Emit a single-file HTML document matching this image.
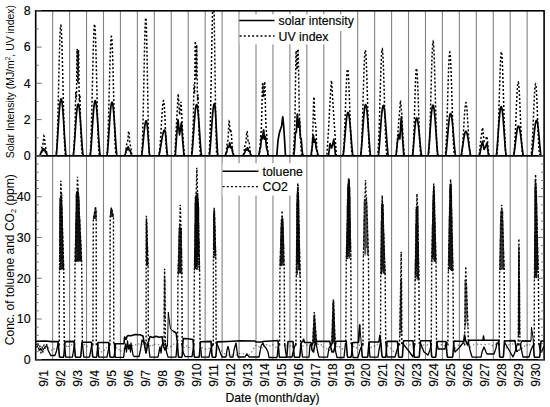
<!DOCTYPE html><html><head><meta charset="utf-8"><style>
html,body{margin:0;padding:0;background:#fff;}
svg{display:block;font-family:"Liberation Sans",sans-serif;}
text{stroke:#000;stroke-width:0.15px;}
</style></head><body>
<svg width="550" height="407" viewBox="0 0 550 407">
<rect width="550" height="407" fill="#fff"/>
<defs>
<clipPath id="ct"><rect x="35.7" y="10.8" width="508.4" height="145.1"/></clipPath>
<clipPath id="cb"><rect x="35.7" y="155.9" width="508.4" height="203.9"/></clipPath>
</defs>
<g stroke="#828282" stroke-width="1.1"><line x1="52.65" y1="10.80" x2="52.65" y2="359.80"/><line x1="69.59" y1="10.80" x2="69.59" y2="359.80"/><line x1="86.54" y1="10.80" x2="86.54" y2="359.80"/><line x1="103.49" y1="10.80" x2="103.49" y2="359.80"/><line x1="120.43" y1="10.80" x2="120.43" y2="359.80"/><line x1="137.38" y1="10.80" x2="137.38" y2="359.80"/><line x1="154.33" y1="10.80" x2="154.33" y2="359.80"/><line x1="171.27" y1="10.80" x2="171.27" y2="359.80"/><line x1="188.22" y1="10.80" x2="188.22" y2="359.80"/><line x1="205.17" y1="10.80" x2="205.17" y2="359.80"/><line x1="222.11" y1="10.80" x2="222.11" y2="359.80"/><line x1="239.06" y1="10.80" x2="239.06" y2="359.80"/><line x1="256.01" y1="10.80" x2="256.01" y2="359.80"/><line x1="272.95" y1="10.80" x2="272.95" y2="359.80"/><line x1="289.90" y1="10.80" x2="289.90" y2="359.80"/><line x1="306.85" y1="10.80" x2="306.85" y2="359.80"/><line x1="323.79" y1="10.80" x2="323.79" y2="359.80"/><line x1="340.74" y1="10.80" x2="340.74" y2="359.80"/><line x1="357.69" y1="10.80" x2="357.69" y2="359.80"/><line x1="374.63" y1="10.80" x2="374.63" y2="359.80"/><line x1="391.58" y1="10.80" x2="391.58" y2="359.80"/><line x1="408.53" y1="10.80" x2="408.53" y2="359.80"/><line x1="425.47" y1="10.80" x2="425.47" y2="359.80"/><line x1="442.42" y1="10.80" x2="442.42" y2="359.80"/><line x1="459.37" y1="10.80" x2="459.37" y2="359.80"/><line x1="476.31" y1="10.80" x2="476.31" y2="359.80"/><line x1="493.26" y1="10.80" x2="493.26" y2="359.80"/><line x1="510.21" y1="10.80" x2="510.21" y2="359.80"/><line x1="527.15" y1="10.80" x2="527.15" y2="359.80"/></g>
<g clip-path="url(#ct)" fill="none">
<path d="M35.70,155.90 L39.51,155.90 L39.72,155.90 L39.94,155.87 L40.15,155.75 L40.36,155.53 L40.57,155.18 L40.78,154.61 L41.00,153.73 L41.21,152.47 L41.42,150.86 L41.63,149.09 L41.84,147.47 L42.06,146.25 L42.27,145.56 L42.48,145.25 L42.69,144.98 L42.90,144.31 L43.11,142.98 L43.33,141.02 L43.54,138.79 L43.75,136.90 L43.96,135.95 L44.17,136.27 L44.39,137.80 L44.60,140.12 L44.81,142.59 L45.02,144.68 L45.23,146.13 L45.44,146.98 L45.66,147.56 L45.87,148.20 L46.08,149.15 L46.29,150.43 L46.50,151.86 L46.72,153.22 L46.93,154.32 L47.14,155.08 L47.35,155.53 L47.56,155.77 L47.77,155.88 L47.99,155.90 L48.20,155.90 L55.61,155.90 L55.82,155.84 L56.04,155.42 L56.25,154.39 L56.46,152.59 L56.67,149.91 L56.88,146.30 L57.10,141.71 L57.31,136.16 L57.52,129.70 L57.73,122.42 L57.94,114.42 L58.15,105.85 L58.37,96.88 L58.58,87.68 L58.79,78.45 L59.00,69.40 L59.21,60.72 L59.43,52.62 L59.64,45.29 L59.85,38.89 L60.06,33.58 L60.27,29.48 L60.48,26.70 L60.70,25.30 L60.91,25.31 L61.12,26.74 L61.33,29.55 L61.54,33.68 L61.76,39.01 L61.97,45.43 L62.18,52.79 L62.39,60.90 L62.60,69.59 L62.81,78.65 L63.03,87.88 L63.24,97.07 L63.45,106.04 L63.66,114.60 L63.87,122.58 L64.09,129.85 L64.30,136.29 L64.51,141.81 L64.72,146.38 L64.93,149.98 L65.14,152.64 L65.36,154.41 L65.57,155.43 L65.78,155.85 L65.99,155.90 L72.56,155.90 L72.77,155.88 L72.98,155.67 L73.19,155.05 L73.41,153.93 L73.62,152.22 L73.83,149.77 L74.04,146.43 L74.25,142.32 L74.47,138.05 L74.68,134.31 L74.89,130.59 L75.10,124.74 L75.31,114.79 L75.52,102.26 L75.74,92.92 L75.95,92.24 L76.16,98.11 L76.37,99.60 L76.58,89.32 L76.80,69.80 L77.01,52.52 L77.22,48.89 L77.43,60.33 L77.64,76.40 L77.85,83.23 L78.07,75.10 L78.28,59.30 L78.49,49.86 L78.70,55.84 L78.91,74.17 L79.13,92.96 L79.34,101.78 L79.55,99.62 L79.76,94.81 L79.97,97.18 L80.19,107.00 L80.40,118.74 L80.61,127.63 L80.82,132.95 L81.03,136.66 L81.24,140.45 L81.46,144.52 L81.67,148.22 L81.88,151.11 L82.09,153.18 L82.30,154.58 L82.52,155.43 L82.73,155.82 L82.94,155.90 L83.15,155.90 L89.29,155.90 L89.51,155.90 L89.72,155.71 L89.93,155.04 L90.14,153.68 L90.35,151.49 L90.56,148.38 L90.78,144.30 L90.99,139.24 L91.20,133.24 L91.41,126.34 L91.62,118.67 L91.84,110.33 L92.05,101.49 L92.26,92.32 L92.47,83.01 L92.68,73.75 L92.90,64.77 L93.11,56.25 L93.32,48.40 L93.53,41.40 L93.74,35.41 L93.95,30.58 L94.17,27.02 L94.38,24.83 L94.59,24.04 L94.80,24.69 L95.01,26.75 L95.23,30.18 L95.44,34.89 L95.65,40.77 L95.86,47.68 L96.07,55.45 L96.28,63.91 L96.50,72.86 L96.71,82.10 L96.92,91.41 L97.13,100.61 L97.34,109.49 L97.56,117.88 L97.77,125.63 L97.98,132.60 L98.19,138.70 L98.40,143.85 L98.61,148.02 L98.83,151.22 L99.04,153.50 L99.25,154.94 L99.46,155.67 L99.67,155.89 L99.89,155.90 L106.24,155.90 L106.45,155.82 L106.66,155.37 L106.88,154.34 L107.09,152.60 L107.30,150.04 L107.51,146.62 L107.72,142.30 L107.94,137.12 L108.15,131.11 L108.36,124.36 L108.57,116.97 L108.78,109.08 L108.99,100.84 L109.21,92.42 L109.42,84.00 L109.63,75.76 L109.84,67.89 L110.05,60.57 L110.27,53.97 L110.48,48.24 L110.69,43.53 L110.90,39.94 L111.11,37.57 L111.32,36.46 L111.54,36.64 L111.75,38.12 L111.96,40.85 L112.17,44.77 L112.38,49.79 L112.60,55.78 L112.81,62.60 L113.02,70.10 L113.23,78.10 L113.44,86.41 L113.65,94.85 L113.87,103.24 L114.08,111.39 L114.29,119.15 L114.50,126.37 L114.71,132.92 L114.93,138.69 L115.14,143.63 L115.35,147.69 L115.56,150.86 L115.77,153.18 L115.98,154.70 L116.20,155.55 L116.41,155.87 L116.62,155.90 L124.25,155.90 L124.46,155.90 L124.67,155.84 L124.88,155.68 L125.09,155.38 L125.31,154.91 L125.52,154.17 L125.73,153.02 L125.94,151.39 L126.15,149.33 L126.36,147.10 L126.58,145.08 L126.79,143.59 L127.00,142.77 L127.21,142.43 L127.42,142.11 L127.64,141.29 L127.85,139.62 L128.06,137.17 L128.27,134.42 L128.48,132.14 L128.69,131.05 L128.91,131.54 L129.12,133.50 L129.33,136.38 L129.54,139.43 L129.75,141.98 L129.97,143.72 L130.18,144.72 L130.39,145.38 L130.60,146.13 L130.81,147.27 L131.03,148.83 L131.24,150.62 L131.45,152.33 L131.66,153.74 L131.87,154.73 L132.08,155.34 L132.30,155.68 L132.51,155.84 L132.72,155.90 L132.93,155.90 L140.98,155.90 L141.19,155.90 L141.40,155.73 L141.62,154.94 L141.83,153.24 L142.04,150.45 L142.25,146.44 L142.46,141.16 L142.68,134.62 L142.89,126.90 L143.10,118.11 L143.31,108.45 L143.52,98.12 L143.74,87.38 L143.95,76.51 L144.16,65.80 L144.37,55.54 L144.58,46.03 L144.79,37.55 L145.01,30.33 L145.22,24.60 L145.43,20.52 L145.64,18.21 L145.85,17.77 L146.07,19.64 L146.28,23.92 L146.49,30.44 L146.70,38.95 L146.91,49.10 L147.12,60.50 L147.34,72.71 L147.55,85.28 L147.76,97.74 L147.97,109.67 L148.18,120.67 L148.40,130.42 L148.61,138.67 L148.82,145.26 L149.03,150.15 L149.24,153.40 L149.45,155.19 L149.67,155.85 L149.88,155.90 L158.14,155.90 L158.35,155.86 L158.56,155.67 L158.78,155.24 L158.99,154.53 L159.20,153.48 L159.41,152.09 L159.62,150.33 L159.83,148.20 L160.05,145.73 L160.26,142.94 L160.47,139.86 L160.68,136.54 L160.89,133.04 L161.11,129.41 L161.32,125.73 L161.53,122.07 L161.74,118.49 L161.95,115.07 L162.16,111.87 L162.38,108.97 L162.59,106.43 L162.80,104.29 L163.01,102.61 L163.22,101.42 L163.44,100.74 L163.65,100.61 L163.86,101.33 L164.07,103.01 L164.28,105.60 L164.49,108.98 L164.71,113.03 L164.92,117.58 L165.13,122.46 L165.34,127.49 L165.55,132.48 L165.77,137.27 L165.98,141.68 L166.19,145.60 L166.40,148.92 L166.61,151.57 L166.82,153.55 L167.04,154.87 L167.25,155.60 L167.46,155.88 L167.67,155.90 L174.66,155.90 L174.87,154.46 L175.09,150.36 L175.30,146.26 L175.51,142.16 L175.72,138.07 L175.93,133.97 L176.15,129.87 L176.36,125.85 L176.57,122.05 L176.78,118.25 L176.99,114.45 L177.20,110.64 L177.42,106.84 L177.63,103.04 L177.84,99.24 L178.05,95.44 L178.26,93.84 L178.48,97.35 L178.69,100.87 L178.90,104.38 L179.11,107.89 L179.32,111.40 L179.53,114.92 L179.75,114.48 L179.96,112.28 L180.17,110.09 L180.38,107.89 L180.59,105.70 L180.81,103.50 L181.02,101.83 L181.23,105.95 L181.44,110.06 L181.65,114.18 L181.87,118.30 L182.08,122.41 L182.29,126.53 L182.50,130.13 L182.71,133.17 L182.92,136.20 L183.14,139.23 L183.35,142.27 L183.56,145.30 L183.77,148.33 L183.98,151.37 L184.20,154.40 L184.41,155.90 L190.55,155.90 L190.76,155.90 L190.97,155.81 L191.19,155.40 L191.40,154.49 L191.61,153.01 L191.82,150.85 L192.03,147.86 L192.24,143.85 L192.46,139.05 L192.67,134.33 L192.88,130.46 L193.09,126.58 L193.30,119.91 L193.52,108.34 L193.73,94.21 L193.94,84.55 L194.15,85.32 L194.36,92.40 L194.58,93.81 L194.79,82.16 L195.00,61.08 L195.21,43.43 L195.42,41.09 L195.63,54.56 L195.85,71.97 L196.06,78.73 L196.27,69.73 L196.48,53.51 L196.69,44.91 L196.91,52.62 L197.12,72.52 L197.33,91.96 L197.54,100.63 L197.75,98.13 L197.96,94.32 L198.18,97.90 L198.39,108.25 L198.60,119.86 L198.81,128.48 L199.02,133.82 L199.24,137.78 L199.45,141.76 L199.66,145.79 L199.87,149.30 L200.08,151.96 L200.29,153.81 L200.51,155.01 L200.72,155.65 L200.93,155.88 L201.14,155.90 L208.56,155.90 L208.77,155.77 L208.98,155.06 L209.19,153.45 L209.40,150.71 L209.62,146.72 L209.83,141.40 L210.04,134.74 L210.25,126.78 L210.46,117.64 L210.67,107.46 L210.89,96.44 L211.10,84.82 L211.31,72.88 L211.52,60.88 L211.73,49.14 L211.95,37.95 L212.16,27.61 L212.37,18.38 L212.58,10.52 L212.79,4.23 L213.00,-0.30 L213.22,-2.97 L213.43,-3.68 L213.64,-1.66 L213.85,3.48 L214.06,11.50 L214.28,22.05 L214.49,34.66 L214.70,48.79 L214.91,63.84 L215.12,79.17 L215.33,94.19 L215.55,108.31 L215.76,121.04 L215.97,131.99 L216.18,140.88 L216.39,147.59 L216.61,152.15 L216.82,154.75 L217.03,155.78 L217.24,155.90 L224.87,155.90 L225.08,155.87 L225.29,155.75 L225.50,155.48 L225.71,155.02 L225.93,154.22 L226.14,152.98 L226.35,151.23 L226.56,149.08 L226.77,146.84 L226.99,144.84 L227.20,143.37 L227.41,142.40 L227.62,141.61 L227.83,140.44 L228.04,138.33 L228.26,135.06 L228.47,130.90 L228.68,126.60 L228.89,123.16 L229.10,121.44 L229.32,121.82 L229.53,124.00 L229.74,127.14 L229.95,130.13 L230.16,132.10 L230.37,132.71 L230.59,132.23 L230.80,131.45 L231.01,131.23 L231.22,132.23 L231.43,134.60 L231.65,137.99 L231.86,141.77 L232.07,145.27 L232.28,148.07 L232.49,150.07 L232.71,151.44 L232.92,152.45 L233.13,153.33 L233.34,154.16 L233.55,154.90 L233.76,155.45 L233.98,155.77 L234.19,155.89 L234.40,155.90 L242.45,155.90 L242.66,155.88 L242.87,155.79 L243.08,155.61 L243.30,155.32 L243.51,154.88 L243.72,154.19 L243.93,153.14 L244.14,151.70 L244.36,149.94 L244.57,148.10 L244.78,146.48 L244.99,145.32 L245.20,144.67 L245.42,144.31 L245.63,143.83 L245.84,142.76 L246.05,140.85 L246.26,138.19 L246.47,135.27 L246.69,132.79 L246.90,131.41 L247.11,131.52 L247.32,133.01 L247.53,135.37 L247.75,137.85 L247.96,139.78 L248.17,140.80 L248.38,140.99 L248.59,140.80 L248.80,140.79 L249.02,141.41 L249.23,142.84 L249.44,144.93 L249.65,147.31 L249.86,149.56 L250.08,151.40 L250.29,152.73 L250.50,153.64 L250.71,154.29 L250.92,154.80 L251.13,155.23 L251.35,155.57 L251.56,155.80 L251.77,155.89 L251.98,155.90 L258.55,155.90 L258.76,155.85 L258.97,155.62 L259.18,155.08 L259.40,154.04 L259.61,152.26 L259.82,149.61 L260.03,146.23 L260.24,142.51 L260.46,139.02 L260.67,136.17 L260.88,133.96 L261.09,131.79 L261.30,128.66 L261.51,123.59 L261.73,116.13 L261.94,106.79 L262.15,97.01 L262.36,88.79 L262.57,83.93 L262.79,83.25 L263.00,86.22 L263.21,91.05 L263.42,95.38 L263.63,97.14 L263.84,95.47 L264.06,91.00 L264.27,85.64 L264.48,81.83 L264.69,81.54 L264.90,85.57 L265.12,93.30 L265.33,103.03 L265.54,112.67 L265.75,120.58 L265.96,126.03 L266.17,129.35 L266.39,131.49 L266.60,133.58 L266.81,136.34 L267.02,139.92 L267.23,143.93 L267.45,147.77 L267.66,150.92 L267.87,153.15 L268.08,154.55 L268.29,155.33 L268.50,155.73 L268.72,155.89 L268.93,155.90 L292.65,155.90 L292.87,155.89 L293.08,155.60 L293.29,154.48 L293.50,152.19 L293.71,148.73 L293.92,144.52 L294.14,140.12 L294.35,135.81 L294.56,131.17 L294.77,125.07 L294.98,116.22 L295.20,103.93 L295.41,88.87 L295.62,73.19 L295.83,59.99 L296.04,52.04 L296.26,50.60 L296.47,54.73 L296.68,61.55 L296.89,67.44 L297.10,69.50 L297.31,66.57 L297.53,60.03 L297.74,52.98 L297.95,48.89 L298.16,50.25 L298.37,57.72 L298.59,69.94 L298.80,84.24 L299.01,97.73 L299.22,108.34 L299.43,115.43 L299.64,119.71 L299.86,122.69 L300.07,125.84 L300.28,130.01 L300.49,135.21 L300.70,140.79 L300.92,145.92 L301.13,149.97 L301.34,152.74 L301.55,154.41 L301.76,155.33 L301.97,155.76 L302.19,155.90 L302.40,155.90 L310.87,155.90 L311.08,155.90 L311.30,155.63 L311.51,154.49 L311.72,152.28 L311.93,149.27 L312.14,145.88 L312.35,142.30 L312.57,138.13 L312.78,132.61 L312.99,125.20 L313.20,116.20 L313.41,107.06 L313.63,99.93 L313.84,96.77 L314.05,98.36 L314.26,103.32 L314.47,109.74 L314.68,115.75 L314.90,120.01 L315.11,122.21 L315.32,122.99 L315.53,123.62 L315.74,125.26 L315.96,128.52 L316.17,133.23 L316.38,138.63 L316.59,143.79 L316.80,148.02 L317.01,151.06 L317.23,153.06 L317.44,154.34 L317.65,155.16 L317.86,155.67 L318.07,155.88 L318.29,155.90 L326.76,155.90 L326.97,153.32 L327.18,150.12 L327.39,146.91 L327.61,143.71 L327.82,140.51 L328.03,137.31 L328.24,134.11 L328.45,130.91 L328.67,127.43 L328.88,123.35 L329.09,119.27 L329.30,115.18 L329.51,111.10 L329.72,107.02 L329.94,102.94 L330.15,98.86 L330.36,95.58 L330.57,92.57 L330.78,89.55 L331.00,86.54 L331.21,83.52 L331.42,80.51 L331.63,81.59 L331.84,85.20 L332.05,88.80 L332.27,92.41 L332.48,96.02 L332.69,99.62 L332.90,103.01 L333.11,106.18 L333.33,109.34 L333.54,112.51 L333.75,115.67 L333.96,118.83 L334.17,122.00 L334.38,125.16 L334.60,128.36 L334.81,131.59 L335.02,134.83 L335.23,138.07 L335.44,141.30 L335.66,144.54 L335.87,147.77 L336.08,151.01 L336.29,154.24 L336.50,155.90 L342.43,155.90 L342.65,155.85 L342.86,155.53 L343.07,154.80 L343.28,153.55 L343.49,151.71 L343.71,149.24 L343.92,146.13 L344.13,142.39 L344.34,138.05 L344.55,133.16 L344.76,127.82 L344.98,122.10 L345.19,116.13 L345.40,110.03 L345.61,103.92 L345.82,97.93 L346.04,92.22 L346.25,86.89 L346.46,82.09 L346.67,77.92 L346.88,74.48 L347.10,71.85 L347.31,70.10 L347.52,69.27 L347.73,69.38 L347.94,70.43 L348.15,72.38 L348.37,75.21 L348.58,78.82 L348.79,83.15 L349.00,88.09 L349.21,93.51 L349.43,99.30 L349.64,105.33 L349.85,111.45 L350.06,117.54 L350.27,123.46 L350.48,129.10 L350.70,134.34 L350.91,139.11 L351.12,143.31 L351.33,146.91 L351.54,149.87 L351.76,152.19 L351.97,153.89 L352.18,155.01 L352.39,155.63 L352.60,155.88 L352.81,155.90 L360.02,155.90 L360.23,155.89 L360.44,155.71 L360.65,155.12 L360.86,153.96 L361.08,152.12 L361.29,149.54 L361.50,146.18 L361.71,142.03 L361.92,137.13 L362.14,131.52 L362.35,125.29 L362.56,118.54 L362.77,111.40 L362.98,104.01 L363.19,96.53 L363.41,89.11 L363.62,81.93 L363.83,75.14 L364.04,68.90 L364.25,63.36 L364.47,58.64 L364.68,54.87 L364.89,52.13 L365.10,50.49 L365.31,49.98 L365.52,50.62 L365.74,52.40 L365.95,55.27 L366.16,59.16 L366.37,63.98 L366.58,69.61 L366.80,75.92 L367.01,82.77 L367.22,89.99 L367.43,97.43 L367.64,104.91 L367.85,112.27 L368.07,119.37 L368.28,126.06 L368.49,132.22 L368.70,137.75 L368.91,142.57 L369.13,146.62 L369.34,149.89 L369.55,152.38 L369.76,154.13 L369.97,155.22 L370.18,155.75 L370.40,155.90 L370.61,155.90 L376.96,155.90 L377.18,155.88 L377.39,155.62 L377.60,154.91 L377.81,153.59 L378.02,151.57 L378.23,148.79 L378.45,145.22 L378.66,140.86 L378.87,135.74 L379.08,129.93 L379.29,123.51 L379.51,116.60 L379.72,109.32 L379.93,101.82 L380.14,94.26 L380.35,86.80 L380.56,79.62 L380.78,72.87 L380.99,66.71 L381.20,61.28 L381.41,56.72 L381.62,53.13 L381.84,50.60 L382.05,49.19 L382.26,48.93 L382.47,49.84 L382.68,51.88 L382.89,55.01 L383.11,59.16 L383.32,64.22 L383.53,70.07 L383.74,76.59 L383.95,83.60 L384.17,90.96 L384.38,98.49 L384.59,106.04 L384.80,113.43 L385.01,120.52 L385.23,127.18 L385.44,133.27 L385.65,138.70 L385.86,143.40 L386.07,147.32 L386.28,150.45 L386.50,152.79 L386.71,154.41 L386.92,155.37 L387.13,155.81 L387.34,155.90 L387.56,155.90 L396.24,155.90 L396.45,153.69 L396.66,150.62 L396.88,147.54 L397.09,144.47 L397.30,141.40 L397.51,138.32 L397.72,135.25 L397.94,132.39 L398.15,129.64 L398.36,126.90 L398.57,124.15 L398.78,121.41 L398.99,118.66 L399.21,115.92 L399.42,113.35 L399.63,110.78 L399.84,108.21 L400.05,105.64 L400.27,103.07 L400.48,100.50 L400.69,102.25 L400.90,104.52 L401.11,106.80 L401.32,109.07 L401.54,111.35 L401.75,113.63 L401.96,117.32 L402.17,121.49 L402.38,125.65 L402.60,129.81 L402.81,133.97 L403.02,138.01 L403.23,140.75 L403.44,143.50 L403.65,146.24 L403.87,148.99 L404.08,151.73 L404.29,154.47 L404.50,155.90 L411.92,155.90 L412.13,155.90 L412.34,155.74 L412.55,155.11 L412.76,153.81 L412.98,151.73 L413.19,148.78 L413.40,144.95 L413.61,140.25 L413.82,134.77 L414.03,128.61 L414.25,121.92 L414.46,114.87 L414.67,107.66 L414.88,100.50 L415.09,93.60 L415.31,87.19 L415.52,81.45 L415.73,76.58 L415.94,72.73 L416.15,70.03 L416.36,68.56 L416.58,68.37 L416.79,69.29 L417.00,71.27 L417.21,74.24 L417.42,78.13 L417.64,82.83 L417.85,88.22 L418.06,94.14 L418.27,100.46 L418.48,106.99 L418.69,113.58 L418.91,120.07 L419.12,126.30 L419.33,132.13 L419.54,137.45 L419.75,142.16 L419.97,146.18 L420.18,149.47 L420.39,152.03 L420.60,153.88 L420.81,155.06 L421.02,155.69 L421.24,155.89 L421.45,155.90 L427.80,155.90 L428.02,155.90 L428.23,155.72 L428.44,155.12 L428.65,153.90 L428.86,151.97 L429.07,149.24 L429.29,145.66 L429.50,141.24 L429.71,136.00 L429.92,130.00 L430.13,123.32 L430.35,116.07 L430.56,108.39 L430.77,100.43 L430.98,92.36 L431.19,84.35 L431.40,76.58 L431.62,69.22 L431.83,62.45 L432.04,56.42 L432.25,51.27 L432.46,47.14 L432.68,44.11 L432.89,42.26 L433.10,41.63 L433.31,42.25 L433.52,44.09 L433.73,47.11 L433.95,51.24 L434.16,56.38 L434.37,62.41 L434.58,69.18 L434.79,76.53 L435.01,84.30 L435.22,92.31 L435.43,100.38 L435.64,108.34 L435.85,116.02 L436.06,123.27 L436.28,129.96 L436.49,135.97 L436.70,141.21 L436.91,145.64 L437.12,149.22 L437.34,151.96 L437.55,153.89 L437.76,155.11 L437.97,155.72 L438.18,155.90 L438.40,155.90 L444.54,155.90 L444.75,155.89 L444.96,155.68 L445.17,155.05 L445.39,153.85 L445.60,151.98 L445.81,149.37 L446.02,146.00 L446.23,141.86 L446.44,136.98 L446.66,131.43 L446.87,125.27 L447.08,118.61 L447.29,111.59 L447.50,104.34 L447.72,97.01 L447.93,89.76 L448.14,82.75 L448.35,76.15 L448.56,70.10 L448.78,64.75 L448.99,60.22 L449.20,56.63 L449.41,54.05 L449.62,52.55 L449.83,52.17 L450.05,52.91 L450.26,54.76 L450.47,57.68 L450.68,61.59 L450.89,66.39 L451.11,71.98 L451.32,78.23 L451.53,84.98 L451.74,92.08 L451.95,99.37 L452.16,106.69 L452.38,113.89 L452.59,120.81 L452.80,127.31 L453.01,133.29 L453.22,138.63 L453.44,143.28 L453.65,147.17 L453.86,150.29 L454.07,152.66 L454.28,154.30 L454.49,155.31 L454.71,155.79 L454.92,155.90 L455.13,155.90 L460.64,155.90 L460.85,155.89 L461.06,155.79 L461.27,155.46 L461.49,154.85 L461.70,153.89 L461.91,152.55 L462.12,150.82 L462.33,148.69 L462.54,146.19 L462.76,143.33 L462.97,140.17 L463.18,136.75 L463.39,133.14 L463.60,129.41 L463.82,125.64 L464.03,121.92 L464.24,118.31 L464.45,114.92 L464.66,111.81 L464.87,109.06 L465.09,106.73 L465.30,104.88 L465.51,103.55 L465.72,102.78 L465.93,102.58 L466.15,102.96 L466.36,103.91 L466.57,105.41 L466.78,107.42 L466.99,109.89 L467.20,112.76 L467.42,115.97 L467.63,119.44 L467.84,123.09 L468.05,126.83 L468.26,130.60 L468.48,134.30 L468.69,137.85 L468.90,141.20 L469.11,144.27 L469.32,147.02 L469.53,149.41 L469.75,151.41 L469.96,153.01 L470.17,154.23 L470.38,155.08 L470.59,155.59 L470.81,155.84 L471.02,155.90 L471.23,155.90 L478.86,155.90 L479.07,155.29 L479.28,153.37 L479.49,151.45 L479.70,149.53 L479.91,147.61 L480.13,145.69 L480.34,143.76 L480.55,141.84 L480.76,139.92 L480.97,138.35 L481.19,136.86 L481.40,135.36 L481.61,133.87 L481.82,132.37 L482.03,130.88 L482.24,129.39 L482.46,127.89 L482.67,127.59 L482.88,129.78 L483.09,131.98 L483.30,134.17 L483.52,136.37 L483.73,138.57 L483.94,140.76 L484.15,141.22 L484.36,140.98 L484.57,140.74 L484.79,140.50 L485.00,140.26 L485.21,140.02 L485.42,139.78 L485.63,139.49 L485.85,138.94 L486.06,138.39 L486.27,137.84 L486.48,137.29 L486.69,136.74 L486.91,136.19 L487.12,137.11 L487.33,139.23 L487.54,141.34 L487.75,143.45 L487.96,145.57 L488.18,147.68 L488.39,149.79 L488.60,151.91 L488.81,154.02 L489.02,155.90 L496.23,155.90 L496.44,155.84 L496.65,155.48 L496.86,154.62 L497.07,153.15 L497.28,150.97 L497.50,148.03 L497.71,144.32 L497.92,139.85 L498.13,134.66 L498.34,128.81 L498.56,122.40 L498.77,115.54 L498.98,108.37 L499.19,101.03 L499.40,93.68 L499.62,86.47 L499.83,79.58 L500.04,73.15 L500.25,67.34 L500.46,62.29 L500.67,58.11 L500.89,54.91 L501.10,52.76 L501.31,51.71 L501.52,51.80 L501.73,53.01 L501.95,55.32 L502.16,58.67 L502.37,62.98 L502.58,68.15 L502.79,74.06 L503.00,80.56 L503.22,87.51 L503.43,94.75 L503.64,102.12 L503.85,109.44 L504.06,116.58 L504.28,123.38 L504.49,129.71 L504.70,135.47 L504.91,140.56 L505.12,144.92 L505.33,148.51 L505.55,151.33 L505.76,153.41 L505.97,154.78 L506.18,155.56 L506.39,155.86 L506.61,155.90 L512.96,155.90 L513.17,155.89 L513.38,155.71 L513.60,155.22 L513.81,154.32 L514.02,152.94 L514.23,151.03 L514.44,148.57 L514.66,145.57 L514.87,142.05 L515.08,138.05 L515.29,133.62 L515.50,128.86 L515.71,123.84 L515.93,118.67 L516.14,113.45 L516.35,108.31 L516.56,103.35 L516.77,98.68 L516.99,94.43 L517.20,90.68 L517.41,87.52 L517.62,85.04 L517.83,83.28 L518.04,82.30 L518.26,82.11 L518.47,82.72 L518.68,84.12 L518.89,86.27 L519.10,89.12 L519.32,92.60 L519.53,96.63 L519.74,101.12 L519.95,105.95 L520.16,111.03 L520.37,116.22 L520.59,121.43 L520.80,126.53 L521.01,131.43 L521.22,136.02 L521.43,140.23 L521.65,143.99 L521.86,147.23 L522.07,149.95 L522.28,152.11 L522.49,153.74 L522.70,154.86 L522.92,155.53 L523.13,155.84 L523.34,155.90 L523.55,155.90 L530.33,155.90 L530.54,155.89 L530.75,155.76 L530.97,155.33 L531.18,154.51 L531.39,153.23 L531.60,151.44 L531.81,149.12 L532.03,146.27 L532.24,142.90 L532.45,139.06 L532.66,134.80 L532.87,130.19 L533.08,125.32 L533.30,120.29 L533.51,115.21 L533.72,110.17 L533.93,105.30 L534.14,100.71 L534.36,96.49 L534.57,92.76 L534.78,89.59 L534.99,87.07 L535.20,85.26 L535.41,84.19 L535.63,83.90 L535.84,84.51 L536.05,86.06 L536.26,88.52 L536.47,91.81 L536.69,95.84 L536.90,100.48 L537.11,105.59 L537.32,111.04 L537.53,116.67 L537.75,122.33 L537.96,127.86 L538.17,133.13 L538.38,138.00 L538.59,142.38 L538.80,146.17 L539.02,149.34 L539.23,151.84 L539.44,153.68 L539.65,154.91 L539.86,155.60 L540.08,155.87 L540.29,155.90 L544.10,155.90" stroke="#000" stroke-width="1.5" stroke-dasharray="2 2"/>
<path d="M35.70,155.90 L39.30,155.90 L39.51,155.84 L39.72,155.65 L39.94,155.36 L40.15,154.93 L40.36,154.35 L40.57,153.70 L40.78,153.11 L41.00,152.70 L41.21,152.52 L41.42,152.46 L41.63,152.35 L41.84,151.98 L42.06,151.28 L42.27,150.34 L42.48,149.41 L42.69,148.78 L42.90,148.65 L43.11,149.01 L43.33,149.67 L43.54,150.30 L43.75,150.59 L43.96,150.45 L44.17,149.97 L44.39,149.44 L44.60,149.15 L44.81,149.31 L45.02,149.93 L45.23,150.82 L45.44,151.72 L45.66,152.41 L45.87,152.79 L46.08,152.93 L46.29,152.99 L46.50,153.15 L46.72,153.50 L46.93,153.99 L47.14,154.55 L47.35,155.05 L47.56,155.42 L47.77,155.67 L47.99,155.84 L48.20,155.90 L56.04,155.90 L56.25,155.05 L56.46,153.34 L56.67,151.12 L56.88,148.52 L57.10,145.62 L57.31,142.49 L57.52,139.19 L57.73,135.78 L57.94,132.29 L58.15,128.79 L58.37,125.31 L58.58,121.90 L58.79,118.61 L59.00,115.46 L59.21,112.50 L59.43,109.76 L59.64,107.27 L59.85,105.06 L60.06,103.15 L60.27,101.57 L60.48,100.33 L60.70,99.44 L60.91,98.92 L61.12,98.77 L61.33,98.99 L61.54,99.58 L61.76,100.53 L61.97,101.84 L62.18,103.49 L62.39,105.45 L62.60,107.72 L62.81,110.26 L63.03,113.04 L63.24,116.04 L63.45,119.22 L63.66,122.54 L63.87,125.96 L64.09,129.45 L64.30,132.95 L64.51,136.43 L64.72,139.83 L64.93,143.10 L65.14,146.19 L65.36,149.03 L65.57,151.57 L65.78,153.70 L65.99,155.30 L66.20,155.90 L72.98,155.90 L73.19,155.82 L73.41,154.75 L73.62,153.06 L73.83,150.94 L74.04,148.49 L74.25,145.80 L74.47,142.91 L74.68,139.88 L74.89,136.75 L75.10,133.58 L75.31,130.40 L75.52,127.25 L75.74,124.18 L75.95,121.22 L76.16,118.41 L76.37,115.77 L76.58,113.34 L76.80,111.15 L77.01,109.21 L77.22,107.56 L77.43,106.21 L77.64,105.17 L77.85,104.45 L78.07,104.07 L78.28,104.03 L78.49,104.32 L78.70,104.95 L78.91,105.91 L79.13,107.18 L79.34,108.76 L79.55,110.62 L79.76,112.75 L79.97,115.12 L80.19,117.71 L80.40,120.48 L80.61,123.40 L80.82,126.45 L81.03,129.58 L81.24,132.75 L81.46,135.93 L81.67,139.07 L81.88,142.13 L82.09,145.07 L82.30,147.82 L82.52,150.33 L82.73,152.54 L82.94,154.36 L83.15,155.63 L83.36,155.90 L90.14,155.90 L90.35,155.04 L90.56,153.37 L90.78,151.21 L90.99,148.69 L91.20,145.88 L91.41,142.84 L91.62,139.64 L91.84,136.33 L92.05,132.96 L92.26,129.57 L92.47,126.20 L92.68,122.90 L92.90,119.72 L93.11,116.67 L93.32,113.81 L93.53,111.16 L93.74,108.76 L93.95,106.62 L94.17,104.79 L94.38,103.26 L94.59,102.07 L94.80,101.22 L95.01,100.72 L95.23,100.58 L95.44,100.81 L95.65,101.39 L95.86,102.32 L96.07,103.59 L96.28,105.19 L96.50,107.11 L96.71,109.31 L96.92,111.77 L97.13,114.47 L97.34,117.38 L97.56,120.46 L97.77,123.68 L97.98,127.00 L98.19,130.37 L98.40,133.76 L98.61,137.13 L98.83,140.42 L99.04,143.58 L99.25,146.57 L99.46,149.32 L99.67,151.76 L99.89,153.82 L100.10,155.34 L100.31,155.90 L106.88,155.90 L107.09,155.44 L107.30,154.00 L107.51,152.04 L107.72,149.69 L107.94,147.04 L108.15,144.15 L108.36,141.09 L108.57,137.91 L108.78,134.65 L108.99,131.36 L109.21,128.08 L109.42,124.85 L109.63,121.72 L109.84,118.72 L110.05,115.89 L110.27,113.25 L110.48,110.84 L110.69,108.69 L110.90,106.81 L111.11,105.24 L111.32,103.98 L111.54,103.05 L111.75,102.46 L111.96,102.22 L112.17,102.33 L112.38,102.79 L112.60,103.59 L112.81,104.72 L113.02,106.18 L113.23,107.94 L113.44,110.00 L113.65,112.31 L113.87,114.87 L114.08,117.63 L114.29,120.57 L114.50,123.66 L114.71,126.85 L114.93,130.11 L115.14,133.41 L115.35,136.68 L115.56,139.90 L115.77,143.01 L115.98,145.97 L116.20,148.72 L116.41,151.19 L116.62,153.31 L116.83,154.97 L117.04,155.90 L117.26,155.90 L124.03,155.90 L124.25,155.87 L124.46,155.55 L124.67,155.14 L124.88,154.74 L125.09,154.35 L125.31,153.85 L125.52,153.13 L125.73,152.13 L125.94,150.97 L126.15,149.91 L126.36,149.20 L126.58,149.01 L126.79,149.23 L127.00,149.61 L127.21,149.76 L127.42,149.46 L127.64,148.71 L127.85,147.78 L128.06,147.05 L128.27,146.83 L128.48,147.26 L128.69,148.19 L128.91,149.29 L129.12,150.21 L129.33,150.69 L129.54,150.75 L129.75,150.58 L129.97,150.46 L130.18,150.64 L130.39,151.20 L130.60,152.02 L130.81,152.93 L131.03,153.72 L131.24,154.29 L131.45,154.67 L131.66,154.96 L131.87,155.24 L132.08,155.54 L132.30,155.81 L132.51,155.90 L141.40,155.90 L141.62,155.49 L141.83,154.42 L142.04,152.97 L142.25,151.26 L142.46,149.35 L142.68,147.28 L142.89,145.09 L143.10,142.83 L143.31,140.54 L143.52,138.25 L143.74,135.98 L143.95,133.79 L144.16,131.68 L144.37,129.69 L144.58,127.86 L144.79,126.19 L145.01,124.71 L145.22,123.45 L145.43,122.41 L145.64,121.61 L145.85,121.06 L146.07,120.77 L146.28,120.74 L146.49,121.13 L146.70,121.96 L146.91,123.21 L147.12,124.85 L147.34,126.86 L147.55,129.18 L147.76,131.76 L147.97,134.56 L148.18,137.49 L148.40,140.50 L148.61,143.51 L148.82,146.44 L149.03,149.20 L149.24,151.70 L149.45,153.81 L149.67,155.38 L149.88,155.90 L158.56,155.90 L158.78,155.70 L158.99,155.15 L159.20,154.42 L159.41,153.54 L159.62,152.55 L159.83,151.47 L160.05,150.31 L160.26,149.09 L160.47,147.82 L160.68,146.53 L160.89,145.21 L161.11,143.89 L161.32,142.58 L161.53,141.28 L161.74,140.01 L161.95,138.77 L162.16,137.59 L162.38,136.47 L162.59,135.41 L162.80,134.42 L163.01,133.52 L163.22,132.71 L163.44,132.00 L163.65,131.38 L163.86,130.87 L164.07,130.47 L164.28,130.19 L164.49,130.02 L164.71,129.96 L164.92,130.24 L165.13,131.02 L165.34,132.28 L165.55,133.98 L165.77,136.07 L165.98,138.46 L166.19,141.08 L166.40,143.83 L166.61,146.60 L166.82,149.29 L167.04,151.77 L167.25,153.89 L167.46,155.45 L167.67,155.90 L175.30,155.90 L175.51,152.73 L175.72,149.52 L175.93,146.32 L176.15,143.12 L176.36,139.92 L176.57,136.91 L176.78,134.30 L176.99,131.68 L177.20,129.07 L177.42,126.46 L177.63,123.85 L177.84,121.23 L178.05,119.81 L178.26,122.04 L178.48,124.27 L178.69,126.49 L178.90,128.72 L179.11,130.95 L179.32,133.18 L179.53,134.81 L179.75,133.37 L179.96,131.93 L180.17,130.50 L180.38,129.06 L180.59,127.63 L180.81,126.19 L181.02,124.76 L181.23,123.32 L181.44,122.76 L181.65,125.84 L181.87,128.91 L182.08,131.99 L182.29,135.06 L182.50,138.13 L182.71,140.89 L182.92,143.36 L183.14,145.83 L183.35,148.30 L183.56,150.77 L183.77,153.24 L183.98,155.71 L184.20,155.90 L191.40,155.90 L191.61,155.78 L191.82,154.66 L192.03,152.95 L192.24,150.83 L192.46,148.39 L192.67,145.71 L192.88,142.84 L193.09,139.83 L193.30,136.73 L193.52,133.59 L193.73,130.44 L193.94,127.33 L194.15,124.30 L194.36,121.38 L194.58,118.60 L194.79,116.01 L195.00,113.62 L195.21,111.47 L195.42,109.57 L195.63,107.95 L195.85,106.64 L196.06,105.63 L196.27,104.94 L196.48,104.59 L196.69,104.57 L196.91,104.89 L197.12,105.53 L197.33,106.50 L197.54,107.78 L197.75,109.36 L197.96,111.23 L198.18,113.35 L198.39,115.71 L198.60,118.29 L198.81,121.04 L199.02,123.95 L199.24,126.97 L199.45,130.07 L199.66,133.21 L199.87,136.36 L200.08,139.46 L200.29,142.48 L200.51,145.37 L200.72,148.08 L200.93,150.55 L201.14,152.72 L201.35,154.49 L201.57,155.69 L201.78,155.90 L209.19,155.90 L209.40,155.37 L209.62,153.96 L209.83,152.07 L210.04,149.82 L210.25,147.30 L210.46,144.55 L210.67,141.64 L210.89,138.61 L211.10,135.50 L211.31,132.36 L211.52,129.23 L211.73,126.15 L211.95,123.15 L212.16,120.26 L212.37,117.52 L212.58,114.97 L212.79,112.62 L213.00,110.50 L213.22,108.63 L213.43,107.04 L213.64,105.75 L213.85,104.75 L214.06,104.08 L214.28,103.72 L214.49,103.72 L214.70,104.37 L214.91,105.70 L215.12,107.69 L215.33,110.30 L215.55,113.46 L215.76,117.11 L215.97,121.15 L216.18,125.49 L216.39,130.02 L216.61,134.64 L216.82,139.20 L217.03,143.59 L217.24,147.65 L217.45,151.23 L217.66,154.09 L217.88,155.84 L218.09,155.90 L224.87,155.90 L225.08,155.82 L225.29,155.47 L225.50,154.91 L225.71,154.25 L225.93,153.64 L226.14,153.17 L226.35,152.84 L226.56,152.49 L226.77,151.90 L226.99,150.91 L227.20,149.56 L227.41,148.09 L227.62,146.86 L227.83,146.21 L228.04,146.24 L228.26,146.75 L228.47,147.31 L228.68,147.45 L228.89,146.89 L229.10,145.71 L229.32,144.28 L229.53,143.17 L229.74,142.84 L229.95,143.43 L230.16,144.72 L230.37,146.21 L230.59,147.36 L230.80,147.86 L231.01,147.72 L231.22,147.27 L231.43,146.95 L231.65,147.14 L231.86,147.95 L232.07,149.23 L232.28,150.63 L232.49,151.85 L232.71,152.72 L232.92,153.25 L233.13,153.63 L233.34,154.02 L233.55,154.51 L233.76,155.07 L233.98,155.57 L234.19,155.88 L234.40,155.90 L242.45,155.90 L242.66,155.87 L242.87,155.69 L243.08,155.38 L243.30,154.95 L243.51,154.44 L243.72,153.97 L243.93,153.61 L244.14,153.41 L244.36,153.26 L244.57,153.02 L244.78,152.54 L244.99,151.76 L245.20,150.80 L245.42,149.87 L245.63,149.26 L245.84,149.11 L246.05,149.39 L246.26,149.88 L246.47,150.25 L246.69,150.24 L246.90,149.75 L247.11,148.96 L247.32,148.17 L247.53,147.74 L247.75,147.87 L247.96,148.53 L248.17,149.49 L248.38,150.42 L248.59,151.03 L248.80,151.22 L249.02,151.11 L249.23,150.94 L249.44,150.95 L249.65,151.30 L249.86,151.96 L250.08,152.78 L250.29,153.56 L250.50,154.17 L250.71,154.59 L250.92,154.87 L251.13,155.12 L251.35,155.39 L251.56,155.66 L251.77,155.87 L251.98,155.90 L258.34,155.90 L258.55,155.81 L258.76,155.32 L258.97,154.47 L259.18,153.26 L259.40,151.85 L259.61,150.51 L259.82,149.50 L260.03,148.90 L260.24,148.47 L260.46,147.78 L260.67,146.39 L260.88,144.15 L261.09,141.32 L261.30,138.57 L261.51,136.65 L261.73,136.05 L261.94,136.71 L262.15,138.00 L262.36,138.96 L262.57,138.78 L262.79,137.15 L263.00,134.48 L263.21,131.73 L263.42,129.99 L263.63,129.96 L263.84,131.67 L264.06,134.43 L264.27,137.16 L264.48,138.89 L264.69,139.18 L264.90,138.31 L265.12,137.08 L265.33,136.43 L265.54,137.00 L265.75,138.87 L265.96,141.58 L266.17,144.39 L266.39,146.64 L266.60,148.07 L266.81,148.81 L267.02,149.27 L267.23,149.89 L267.45,150.88 L267.66,152.18 L267.87,153.53 L268.08,154.67 L268.29,155.46 L268.50,155.87 L268.72,155.90 L276.77,155.90 L276.98,153.61 L277.19,150.89 L277.40,148.17 L277.61,145.45 L277.83,142.72 L278.04,140.28 L278.25,139.13 L278.46,137.97 L278.67,136.82 L278.88,135.67 L279.10,134.52 L279.31,133.36 L279.52,132.26 L279.73,131.64 L279.94,131.02 L280.16,130.40 L280.37,129.78 L280.58,129.16 L280.79,128.54 L281.00,127.87 L281.21,127.20 L281.43,126.52 L281.64,125.65 L281.85,123.89 L282.06,122.13 L282.27,120.37 L282.49,118.61 L282.70,116.85 L282.91,117.32 L283.12,119.88 L283.33,122.44 L283.55,125.01 L283.76,127.57 L283.97,130.13 L284.18,133.56 L284.39,137.15 L284.60,140.74 L284.82,144.32 L285.03,147.91 L285.24,151.49 L285.45,155.08 L285.66,155.90 L293.29,155.90 L293.50,155.87 L293.71,154.92 L293.92,153.64 L294.14,152.27 L294.35,150.59 L294.56,148.19 L294.77,144.81 L294.98,140.69 L295.20,136.57 L295.41,133.41 L295.62,131.86 L295.83,131.82 L296.04,132.42 L296.26,132.31 L296.47,130.40 L296.68,126.47 L296.89,121.37 L297.10,116.72 L297.31,114.18 L297.53,114.64 L297.74,117.76 L297.95,122.06 L298.16,125.67 L298.37,127.22 L298.59,126.32 L298.80,123.74 L299.01,121.02 L299.22,119.74 L299.43,120.84 L299.64,124.23 L299.86,128.90 L300.07,133.44 L300.28,136.70 L300.49,138.25 L300.70,138.48 L300.92,138.32 L301.13,138.71 L301.34,140.19 L301.55,142.70 L301.76,145.71 L301.97,148.58 L302.19,150.83 L302.40,152.40 L302.61,153.50 L302.82,154.41 L303.03,155.27 L303.25,155.89 L303.46,155.90 L310.87,155.90 L311.08,155.27 L311.30,153.60 L311.51,151.69 L311.72,150.03 L311.93,148.73 L312.14,147.44 L312.35,145.64 L312.57,143.03 L312.78,139.88 L312.99,137.02 L313.20,135.40 L313.41,135.61 L313.63,137.25 L313.84,139.45 L314.05,141.34 L314.26,142.24 L314.47,141.98 L314.68,140.96 L314.90,139.91 L315.11,139.57 L315.32,140.33 L315.53,142.11 L315.74,144.41 L315.96,146.61 L316.17,148.22 L316.38,149.12 L316.59,149.52 L316.80,149.80 L317.01,150.33 L317.23,151.23 L317.44,152.39 L317.65,153.59 L317.86,154.59 L318.07,155.30 L318.29,155.74 L318.50,155.90 L328.45,155.90 L328.67,154.50 L328.88,152.71 L329.09,150.91 L329.30,149.12 L329.51,147.33 L329.72,145.53 L329.94,143.74 L330.15,143.71 L330.36,144.42 L330.57,145.14 L330.78,145.86 L331.00,146.57 L331.21,147.29 L331.42,148.01 L331.63,147.85 L331.84,147.16 L332.05,146.47 L332.27,145.78 L332.48,145.09 L332.69,144.17 L332.90,143.22 L333.11,142.28 L333.33,141.33 L333.54,140.38 L333.75,139.44 L333.96,140.75 L334.17,142.77 L334.38,144.78 L334.60,146.80 L334.81,148.72 L335.02,150.64 L335.23,152.57 L335.44,154.49 L335.66,155.90 L342.86,155.90 L343.07,155.60 L343.28,154.48 L343.49,152.92 L343.71,151.03 L343.92,148.90 L344.13,146.58 L344.34,144.11 L344.55,141.53 L344.76,138.89 L344.98,136.22 L345.19,133.56 L345.40,130.94 L345.61,128.40 L345.82,125.95 L346.04,123.64 L346.25,121.49 L346.46,119.52 L346.67,117.76 L346.88,116.22 L347.10,114.92 L347.31,113.87 L347.52,113.10 L347.73,112.60 L347.94,112.38 L348.15,112.45 L348.37,112.79 L348.58,113.42 L348.79,114.32 L349.00,115.48 L349.21,116.89 L349.43,118.53 L349.64,120.39 L349.85,122.45 L350.06,124.68 L350.27,127.05 L350.48,129.55 L350.70,132.13 L350.91,134.77 L351.12,137.44 L351.33,140.10 L351.54,142.71 L351.76,145.25 L351.97,147.66 L352.18,149.90 L352.39,151.92 L352.60,153.67 L352.81,155.05 L353.03,155.88 L353.24,155.90 L360.44,155.90 L360.65,155.62 L360.86,154.36 L361.08,152.55 L361.29,150.36 L361.50,147.87 L361.71,145.14 L361.92,142.24 L362.14,139.21 L362.35,136.11 L362.56,132.96 L362.77,129.82 L362.98,126.73 L363.19,123.72 L363.41,120.82 L363.62,118.09 L363.83,115.53 L364.04,113.19 L364.25,111.09 L364.47,109.25 L364.68,107.69 L364.89,106.44 L365.10,105.50 L365.31,104.88 L365.52,104.59 L365.74,104.64 L365.95,105.02 L366.16,105.73 L366.37,106.77 L366.58,108.11 L366.80,109.75 L367.01,111.66 L367.22,113.84 L367.43,116.24 L367.64,118.85 L367.85,121.64 L368.07,124.57 L368.28,127.61 L368.49,130.72 L368.70,133.87 L368.91,137.00 L369.13,140.09 L369.34,143.09 L369.55,145.95 L369.76,148.61 L369.97,151.02 L370.18,153.11 L370.40,154.79 L370.61,155.83 L370.82,155.90 L378.23,155.90 L378.45,155.16 L378.66,153.65 L378.87,151.70 L379.08,149.40 L379.29,146.85 L379.51,144.09 L379.72,141.18 L379.93,138.16 L380.14,135.09 L380.35,132.00 L380.56,128.93 L380.78,125.92 L380.99,123.01 L381.20,120.23 L381.41,117.62 L381.62,115.20 L381.84,113.00 L382.05,111.04 L382.26,109.36 L382.47,107.96 L382.68,106.86 L382.89,106.08 L383.11,105.61 L383.32,105.48 L383.53,105.67 L383.74,106.19 L383.95,107.03 L384.17,108.18 L384.38,109.63 L384.59,111.37 L384.80,113.36 L385.01,115.60 L385.23,118.06 L385.44,120.70 L385.65,123.51 L385.86,126.44 L386.07,129.46 L386.28,132.54 L386.50,135.63 L386.71,138.69 L386.92,141.69 L387.13,144.58 L387.34,147.31 L387.56,149.82 L387.77,152.06 L387.98,153.95 L388.19,155.36 L388.40,155.90 L395.82,155.90 L396.03,155.62 L396.24,153.58 L396.45,151.53 L396.66,149.48 L396.88,147.43 L397.09,145.38 L397.30,143.33 L397.51,141.33 L397.72,140.14 L397.94,138.96 L398.15,137.78 L398.36,136.60 L398.57,135.42 L398.78,134.23 L398.99,135.19 L399.21,136.34 L399.42,137.50 L399.63,138.65 L399.84,138.94 L400.05,135.69 L400.27,132.43 L400.48,129.18 L400.69,125.93 L400.90,122.67 L401.11,119.42 L401.32,116.97 L401.54,120.71 L401.75,124.45 L401.96,128.18 L402.17,131.92 L402.38,135.66 L402.60,138.73 L402.81,141.75 L403.02,144.77 L403.23,147.79 L403.44,150.81 L403.65,153.83 L403.87,155.90 L412.34,155.90 L412.55,155.27 L412.76,153.84 L412.98,151.95 L413.19,149.74 L413.40,147.29 L413.61,144.67 L413.82,141.94 L414.03,139.16 L414.25,136.37 L414.46,133.64 L414.67,131.00 L414.88,128.51 L415.09,126.21 L415.31,124.12 L415.52,122.29 L415.73,120.74 L415.94,119.51 L416.15,118.60 L416.36,118.03 L416.58,117.81 L416.79,117.91 L417.00,118.24 L417.21,118.80 L417.42,119.59 L417.64,120.60 L417.85,121.82 L418.06,123.24 L418.27,124.84 L418.48,126.60 L418.69,128.50 L418.91,130.54 L419.12,132.67 L419.33,134.88 L419.54,137.14 L419.75,139.43 L419.97,141.71 L420.18,143.96 L420.39,146.15 L420.60,148.24 L420.81,150.20 L421.02,151.99 L421.24,153.55 L421.45,154.84 L421.66,155.73 L421.87,155.90 L427.80,155.90 L428.02,155.76 L428.23,154.64 L428.44,152.93 L428.65,150.82 L428.86,148.40 L429.07,145.74 L429.29,142.90 L429.50,139.92 L429.71,136.86 L429.92,133.75 L430.13,130.64 L430.35,127.57 L430.56,124.57 L430.77,121.69 L430.98,118.95 L431.19,116.39 L431.40,114.03 L431.62,111.91 L431.83,110.04 L432.04,108.45 L432.25,107.16 L432.46,106.17 L432.68,105.50 L432.89,105.16 L433.10,105.15 L433.31,105.47 L433.52,106.12 L433.73,107.09 L433.95,108.36 L434.16,109.93 L434.37,111.78 L434.58,113.89 L434.79,116.23 L435.01,118.78 L435.22,121.51 L435.43,124.39 L435.64,127.38 L435.85,130.45 L436.06,133.56 L436.28,136.67 L436.49,139.73 L436.70,142.72 L436.91,145.57 L437.12,148.24 L437.34,150.68 L437.55,152.81 L437.76,154.54 L437.97,155.72 L438.18,155.90 L445.39,155.90 L445.60,155.83 L445.81,154.95 L446.02,153.55 L446.23,151.81 L446.44,149.81 L446.66,147.60 L446.87,145.24 L447.08,142.76 L447.29,140.20 L447.50,137.61 L447.72,135.01 L447.93,132.44 L448.14,129.93 L448.35,127.51 L448.56,125.21 L448.78,123.05 L448.99,121.07 L449.20,119.28 L449.41,117.70 L449.62,116.35 L449.83,115.25 L450.05,114.40 L450.26,113.82 L450.47,113.51 L450.68,113.48 L450.89,113.72 L451.11,114.24 L451.32,115.03 L451.53,116.07 L451.74,117.37 L451.95,118.89 L452.16,120.64 L452.38,122.58 L452.59,124.70 L452.80,126.96 L453.01,129.36 L453.22,131.85 L453.44,134.41 L453.65,137.01 L453.86,139.61 L454.07,142.18 L454.28,144.68 L454.49,147.07 L454.71,149.32 L454.92,151.37 L455.13,153.18 L455.34,154.66 L455.55,155.69 L455.77,155.90 L460.85,155.90 L461.06,155.50 L461.27,154.75 L461.49,153.78 L461.70,152.66 L461.91,151.41 L462.12,150.07 L462.33,148.65 L462.54,147.18 L462.76,145.69 L462.97,144.19 L463.18,142.70 L463.39,141.24 L463.60,139.83 L463.82,138.49 L464.03,137.22 L464.24,136.05 L464.45,134.99 L464.66,134.06 L464.87,133.25 L465.09,132.58 L465.30,132.05 L465.51,131.68 L465.72,131.47 L465.93,131.42 L466.15,131.52 L466.36,131.78 L466.57,132.20 L466.78,132.77 L466.99,133.49 L467.20,134.34 L467.42,135.32 L467.63,136.41 L467.84,137.61 L468.05,138.90 L468.26,140.27 L468.48,141.70 L468.69,143.17 L468.90,144.66 L469.11,146.16 L469.32,147.65 L469.53,149.10 L469.75,150.50 L469.96,151.82 L470.17,153.03 L470.38,154.11 L470.59,155.01 L470.81,155.67 L471.02,155.90 L479.49,155.90 L479.70,154.80 L479.91,153.64 L480.13,152.49 L480.34,151.34 L480.55,150.19 L480.76,149.03 L480.97,147.88 L481.19,146.96 L481.40,146.07 L481.61,145.18 L481.82,144.29 L482.03,143.41 L482.24,142.52 L482.46,141.63 L482.67,141.44 L482.88,142.73 L483.09,144.02 L483.30,145.31 L483.52,146.60 L483.73,147.89 L483.94,149.18 L484.15,149.28 L484.36,148.89 L484.57,148.51 L484.79,148.13 L485.00,147.74 L485.21,147.36 L485.42,146.97 L485.63,146.47 L485.85,145.91 L486.06,145.35 L486.27,144.78 L486.48,144.22 L486.69,143.66 L486.91,143.09 L487.12,143.86 L487.33,145.70 L487.54,147.55 L487.75,149.39 L487.96,151.24 L488.18,153.08 L488.39,154.92 L488.60,155.90 L496.01,155.90 L496.23,155.73 L496.44,154.60 L496.65,152.92 L496.86,150.86 L497.07,148.49 L497.28,145.90 L497.50,143.13 L497.71,140.23 L497.92,137.25 L498.13,134.23 L498.34,131.21 L498.56,128.23 L498.77,125.33 L498.98,122.53 L499.19,119.88 L499.40,117.40 L499.62,115.12 L499.83,113.07 L500.04,111.27 L500.25,109.74 L500.46,108.49 L500.67,107.55 L500.89,106.92 L501.10,106.60 L501.31,106.61 L501.52,106.94 L501.73,107.58 L501.95,108.53 L502.16,109.79 L502.37,111.33 L502.58,113.14 L502.79,115.20 L503.00,117.48 L503.22,119.97 L503.43,122.63 L503.64,125.43 L503.85,128.34 L504.06,131.32 L504.28,134.34 L504.49,137.36 L504.70,140.34 L504.91,143.23 L505.12,146.00 L505.33,148.58 L505.55,150.94 L505.76,152.99 L505.97,154.65 L506.18,155.76 L506.39,155.90 L513.38,155.90 L513.60,155.62 L513.81,154.81 L514.02,153.71 L514.23,152.40 L514.44,150.93 L514.66,149.33 L514.87,147.63 L515.08,145.86 L515.29,144.05 L515.50,142.23 L515.71,140.42 L515.93,138.63 L516.14,136.90 L516.35,135.24 L516.56,133.67 L516.77,132.22 L516.99,130.89 L517.20,129.70 L517.41,128.67 L517.62,127.80 L517.83,127.11 L518.04,126.60 L518.26,126.28 L518.47,126.16 L518.68,126.22 L518.89,126.49 L519.10,126.94 L519.32,127.57 L519.53,128.39 L519.74,129.37 L519.95,130.51 L520.16,131.80 L520.37,133.22 L520.59,134.76 L520.80,136.39 L521.01,138.10 L521.22,139.87 L521.43,141.68 L521.65,143.51 L521.86,145.32 L522.07,147.10 L522.28,148.83 L522.49,150.46 L522.70,151.98 L522.92,153.34 L523.13,154.51 L523.34,155.42 L523.55,155.90 L531.39,155.90 L531.60,155.83 L531.81,155.08 L532.03,153.91 L532.24,152.45 L532.45,150.76 L532.66,148.91 L532.87,146.93 L533.08,144.85 L533.30,142.71 L533.51,140.53 L533.72,138.36 L533.93,136.20 L534.14,134.10 L534.36,132.08 L534.57,130.15 L534.78,128.35 L534.99,126.69 L535.20,125.19 L535.41,123.88 L535.63,122.75 L535.84,121.83 L536.05,121.13 L536.26,120.64 L536.47,120.39 L536.69,120.37 L536.90,120.63 L537.11,121.18 L537.32,122.00 L537.53,123.08 L537.75,124.41 L537.96,125.98 L538.17,127.76 L538.38,129.72 L538.59,131.84 L538.80,134.09 L539.02,136.43 L539.23,138.83 L539.44,141.26 L539.65,143.67 L539.86,146.03 L540.08,148.28 L540.29,150.39 L540.50,152.29 L540.71,153.93 L540.92,155.21 L541.13,155.90 L544.10,155.90" stroke="#000" stroke-width="1.7" stroke-linejoin="round"/>
</g>
<g clip-path="url(#cb)">
<path d="M59.44,270.08 L59.55,270.08 L59.67,205.89 L59.78,236.58 L59.90,198.06 L60.01,261.54 L60.12,197.36 L60.23,269.40 L60.35,199.97 L60.46,255.45 L60.58,195.42 L60.69,269.96 L60.81,200.13 L60.92,269.97 L61.04,192.99 L61.15,251.47 L61.27,201.57 L61.38,225.64 L61.49,198.33 L61.60,254.01 L61.72,192.74 L61.83,269.63 L61.95,195.20 L62.06,260.90 L62.18,206.00 L62.29,269.46 L62.41,216.66 L62.52,270.08 L62.63,227.71 L62.74,266.44 L62.86,235.27 L62.97,265.69 L63.09,244.05 L63.20,267.09 L63.32,251.86 L63.43,268.48 L63.55,261.78 L63.66,264.46 L63.77,270.08 L63.88,270.08" fill="none" stroke="#000" stroke-opacity="0.93" stroke-width="1.1" stroke-dasharray="1.6 1.1"/>
<path d="M75.03,261.93 L75.14,261.93 L75.26,248.12 L75.37,261.55 L75.48,235.42 L75.59,253.34 L75.70,222.09 L75.81,245.40 L75.92,211.89 L76.03,231.90 L76.14,194.06 L76.25,261.93 L76.36,192.66 L76.47,227.11 L76.58,192.02 L76.69,220.02 L76.80,194.07 L76.91,261.86 L77.02,190.90 L77.13,238.38 L77.25,191.45 L77.36,261.83 L77.47,195.20 L77.58,221.74 L77.69,190.69 L77.80,261.72 L77.91,189.05 L78.02,261.79 L78.13,190.09 L78.24,236.95 L78.35,192.47 L78.46,251.62 L78.57,194.97 L78.68,261.23 L78.79,194.19 L78.90,261.65 L79.01,197.41 L79.12,261.74 L79.23,201.66 L79.34,261.15 L79.45,210.76 L79.56,230.37 L79.68,216.38 L79.79,260.37 L79.90,218.77 L80.01,261.37 L80.12,225.35 L80.23,245.88 L80.34,231.99 L80.45,261.86 L80.56,234.49 L80.67,261.57 L80.78,240.17 L80.89,254.80 L81.00,245.09 L81.11,261.44 L81.22,251.40 L81.33,261.91 L81.44,256.67 L81.55,261.83 L81.67,261.93 L81.78,261.93" fill="none" stroke="#000" stroke-opacity="0.93" stroke-width="1.1" stroke-dasharray="1.6 1.1"/>
<path d="M93.31,219.11 L93.42,219.11 L93.53,217.91 L93.64,218.91 L93.75,216.48 L93.86,219.09 L93.97,215.49 L94.08,217.22 L94.19,213.88 L94.30,219.01 L94.42,213.18 L94.53,217.22 L94.64,212.00 L94.75,219.03 L94.86,210.43 L94.97,215.00 L95.08,209.04 L95.19,218.40 L95.31,210.09 L95.42,219.11 L95.53,209.78 L95.64,218.94 L95.75,209.92 L95.86,218.90 L95.97,209.27 L96.08,217.43 L96.19,209.80 L96.30,219.03" fill="none" stroke="#000" stroke-opacity="0.82" stroke-width="1.1" stroke-dasharray="1.6 1.1"/>
<path d="M110.21,217.07 L110.32,217.07 L110.44,213.23 L110.55,216.47 L110.67,209.19 L110.78,215.62 L110.90,209.11 L111.01,213.13 L111.13,209.18 L111.24,217.07 L111.36,208.97 L111.47,216.42 L111.59,209.27 L111.70,217.01 L111.83,209.04 L111.94,215.86 L112.06,209.79 L112.17,216.68 L112.29,210.35 L112.40,212.90 L112.52,211.64 L112.63,215.68 L112.75,212.71 L112.86,217.05 L112.98,214.47 L113.09,217.07 L113.21,215.78 L113.32,216.71 L113.44,217.07 L113.55,217.07" fill="none" stroke="#000" stroke-opacity="0.82" stroke-width="1.1" stroke-dasharray="1.6 1.1"/>
<path d="M146.14,221.36 L146.25,261.26 L146.39,222.94 L146.50,264.32 L146.63,220.28 L146.74,265.96 L146.88,222.36 L146.99,252.31 L147.12,229.51 L147.23,254.85 L147.37,239.39 L147.48,255.95 L147.61,247.71 L147.72,265.13 L147.86,257.08 L147.97,261.40 L148.10,266.01 L148.21,266.01" fill="none" stroke="#000" stroke-opacity="0.93" stroke-width="1.1" stroke-dasharray="1.6 1.1"/>
<path d="M164.09,319.02 L164.20,319.02 L164.33,276.22 L164.44,310.71 L164.57,277.44 L164.68,312.04 L164.80,277.60 L164.91,318.97 L165.04,278.90 L165.15,292.55 L165.28,319.02 L165.39,319.02" fill="none" stroke="#000" stroke-opacity="0.58" stroke-width="1.1" stroke-dasharray="1.6 1.1"/>
<path d="M178.00,274.16 L178.12,274.16 L178.23,264.92 L178.34,273.37 L178.47,255.46 L178.58,274.14 L178.69,245.55 L178.81,274.16 L178.92,234.18 L179.03,270.20 L179.16,228.15 L179.27,262.20 L179.38,230.63 L179.50,265.47 L179.61,225.29 L179.72,273.19 L179.84,229.21 L179.96,272.70 L180.07,226.22 L180.19,273.62 L180.31,229.10 L180.42,251.24 L180.53,230.46 L180.65,270.35 L180.76,229.14 L180.88,272.37 L181.00,227.76 L181.11,273.65 L181.22,230.59 L181.34,257.04 L181.45,227.48 L181.56,252.82 L181.69,248.07 L181.80,269.94 L181.91,274.16 L182.03,274.16" fill="none" stroke="#000" stroke-opacity="0.90" stroke-width="1.1" stroke-dasharray="1.6 1.1"/>
<path d="M194.34,270.08 L194.45,270.08 L194.56,249.52 L194.67,264.14 L194.79,224.61 L194.90,268.96 L195.02,202.76 L195.13,264.39 L195.25,196.45 L195.36,269.10 L195.48,197.19 L195.59,255.69 L195.71,200.40 L195.82,267.49 L195.94,196.81 L196.05,225.65 L196.17,192.89 L196.28,270.01 L196.40,192.99 L196.51,237.00 L196.63,197.91 L196.74,250.43 L196.86,199.96 L196.97,267.62 L197.08,193.87 L197.19,270.08 L197.31,192.83 L197.42,263.60 L197.54,194.81 L197.65,240.94 L197.77,193.04 L197.88,269.74 L198.00,196.75 L198.11,255.49 L198.23,198.69 L198.34,255.44 L198.46,201.51 L198.57,242.85 L198.69,207.36 L198.80,255.14 L198.92,222.92 L199.03,265.58 L199.15,239.77 L199.26,270.08 L199.38,254.36 L199.49,265.93 L199.60,270.08 L199.72,270.08" fill="none" stroke="#000" stroke-opacity="0.96" stroke-width="1.1" stroke-dasharray="1.6 1.1"/>
<path d="M213.44,257.85 L213.55,257.85 L213.67,213.35 L213.78,249.16 L213.91,213.56 L214.02,255.00 L214.15,209.43 L214.26,234.89 L214.39,213.16 L214.50,233.19 L214.62,211.58 L214.74,257.67 L214.86,216.96 L214.97,249.33 L215.10,225.78 L215.21,256.05 L215.34,237.09 L215.45,247.87 L215.58,247.01 L215.69,251.88 L215.81,257.85 L215.93,257.85" fill="none" stroke="#000" stroke-opacity="0.96" stroke-width="1.1" stroke-dasharray="1.6 1.1"/>
<path d="M279.98,266.01 L280.09,266.01 L280.20,256.25 L280.31,263.89 L280.42,246.95 L280.53,265.74 L280.65,237.73 L280.76,247.71 L280.87,227.34 L280.98,260.59 L281.09,222.41 L281.20,264.30 L281.32,219.12 L281.43,246.11 L281.54,219.66 L281.65,265.95 L281.76,221.58 L281.87,259.41 L281.99,217.24 L282.10,261.14 L282.21,217.45 L282.32,248.71 L282.44,218.09 L282.55,249.21 L282.66,221.70 L282.77,264.10 L282.88,217.94 L282.99,265.79 L283.11,221.32 L283.22,260.38 L283.33,226.82 L283.44,249.43 L283.55,235.86 L283.66,249.29 L283.78,244.87 L283.89,254.76 L284.00,256.00 L284.11,265.86 L284.23,266.01 L284.34,266.01" fill="none" stroke="#000" stroke-opacity="0.93" stroke-width="1.1" stroke-dasharray="1.6 1.1"/>
<path d="M296.25,275.79 L296.37,275.79 L296.49,239.83 L296.60,260.67 L296.71,202.22 L296.82,273.28 L296.94,194.32 L297.06,239.79 L297.18,193.77 L297.29,274.71 L297.41,190.19 L297.52,225.21 L297.63,186.65 L297.75,262.17 L297.87,189.96 L297.98,264.27 L298.10,184.75 L298.21,260.17 L298.32,190.10 L298.44,225.08 L298.56,193.23 L298.67,270.23 L298.79,199.99 L298.90,264.31 L299.01,209.20 L299.12,259.81 L299.25,224.76 L299.36,268.93 L299.48,239.98 L299.59,254.15 L299.71,250.47 L299.82,275.19 L299.94,263.07 L300.05,275.75 L300.17,275.79 L300.28,275.79" fill="none" stroke="#000" stroke-opacity="0.96" stroke-width="1.1" stroke-dasharray="1.6 1.1"/>
<path d="M312.69,343.49 L312.80,343.49 L312.92,338.54 L313.03,343.44 L313.14,332.96 L313.25,338.20 L313.38,327.48 L313.49,338.33 L313.61,322.67 L313.72,343.27 L313.84,317.77 L313.95,337.21 L314.06,315.18 L314.18,342.11 L314.30,315.59 L314.41,343.42 L314.53,314.78 L314.64,343.39 L314.75,315.95 L314.87,342.96 L314.99,320.10 L315.10,340.45 L315.22,323.38 L315.33,342.39 L315.44,326.20 L315.56,341.33 L315.68,330.45 L315.79,343.33 L315.91,333.58 L316.02,341.42 L316.14,336.95 L316.25,340.66 L316.37,340.06 L316.48,342.05 L316.60,343.49 L316.71,343.49" fill="none" stroke="#000" stroke-opacity="0.90" stroke-width="1.1" stroke-dasharray="1.6 1.1"/>
<path d="M331.70,343.49 L331.81,343.49 L331.93,336.12 L332.04,343.21 L332.16,328.89 L332.27,343.27 L332.40,319.02 L332.51,332.41 L332.63,313.22 L332.74,342.93 L332.86,302.52 L332.97,342.63 L333.09,302.84 L333.20,327.26 L333.33,301.32 L333.44,329.24 L333.56,304.19 L333.67,340.84 L333.79,301.70 L333.90,343.49 L334.02,309.01 L334.13,334.55 L334.26,312.95 L334.37,326.34 L334.49,322.38 L334.60,340.95 L334.72,329.28 L334.83,341.82 L334.95,335.81 L335.06,343.42 L335.19,343.49 L335.30,343.49" fill="none" stroke="#000" stroke-opacity="0.90" stroke-width="1.1" stroke-dasharray="1.6 1.1"/>
<path d="M346.25,259.07 L346.36,259.07 L346.48,245.72 L346.59,257.08 L346.71,232.56 L346.82,258.83 L346.94,223.15 L347.05,243.25 L347.17,205.34 L347.28,232.10 L347.40,198.89 L347.51,259.03 L347.63,186.48 L347.74,252.11 L347.86,183.62 L347.97,256.14 L348.09,183.27 L348.20,249.93 L348.32,179.27 L348.43,245.65 L348.54,187.24 L348.65,239.34 L348.77,183.50 L348.88,258.40 L349.00,183.03 L349.11,236.53 L349.23,180.73 L349.34,258.27 L349.46,179.29 L349.57,250.05 L349.69,186.83 L349.80,222.92 L349.92,187.40 L350.03,239.08 L350.15,196.74 L350.26,246.72 L350.38,218.04 L350.49,251.78 L350.61,239.34 L350.72,246.53 L350.84,259.07 L350.95,259.07" fill="none" stroke="#000" stroke-opacity="0.96" stroke-width="1.1" stroke-dasharray="1.6 1.1"/>
<path d="M363.38,255.40 L363.49,255.40 L363.60,235.58 L363.71,247.92 L363.82,218.13 L363.93,236.38 L364.04,202.09 L364.15,241.23 L364.26,199.54 L364.37,237.35 L364.48,197.18 L364.59,239.76 L364.71,199.98 L364.82,253.00 L364.93,199.19 L365.04,255.40 L365.15,201.08 L365.26,243.92 L365.37,203.34 L365.48,254.49 L365.59,199.06 L365.70,242.64 L365.81,200.69 L365.92,242.95 L366.04,199.43 L366.15,248.09 L366.26,201.21 L366.37,220.18 L366.48,202.05 L366.59,240.89 L366.70,196.84 L366.81,221.90 L366.92,201.89 L367.03,244.94 L367.14,204.99 L367.25,254.34 L367.37,212.30 L367.48,255.39 L367.59,220.51 L367.70,253.57 L367.81,231.80 L367.92,254.90 L368.03,238.82 L368.14,253.03 L368.25,247.18 L368.36,250.53 L368.48,255.40 L368.59,255.40" fill="none" stroke="#000" stroke-opacity="0.69" stroke-width="1.1" stroke-dasharray="1.6 1.1"/>
<path d="M380.75,274.16 L380.87,274.16 L380.98,247.11 L381.09,269.23 L381.20,221.28 L381.31,274.15 L381.42,204.91 L381.53,273.71 L381.64,205.12 L381.75,273.64 L381.86,201.27 L381.97,261.30 L382.08,204.46 L382.19,235.90 L382.30,206.02 L382.41,265.29 L382.52,203.28 L382.63,270.60 L382.74,205.70 L382.85,258.86 L382.97,207.07 L383.08,272.28 L383.19,203.92 L383.30,272.15 L383.41,211.94 L383.52,273.05 L383.63,224.39 L383.74,273.84 L383.85,232.31 L383.96,271.49 L384.07,235.31 L384.18,262.80 L384.29,246.43 L384.40,255.92 L384.51,253.26 L384.62,274.14 L384.73,259.42 L384.84,273.03 L384.95,266.57 L385.06,269.78 L385.18,274.16 L385.29,274.16" fill="none" stroke="#000" stroke-opacity="0.90" stroke-width="1.1" stroke-dasharray="1.6 1.1"/>
<path d="M399.75,335.33 L399.87,335.33 L399.98,322.98 L400.09,327.54 L400.21,308.32 L400.32,330.68 L400.44,296.50 L400.55,327.74 L400.66,280.90 L400.77,334.72 L400.89,279.09 L401.00,328.39 L401.11,282.82 L401.22,330.86 L401.34,280.04 L401.45,330.53 L401.57,281.11 L401.68,326.47 L401.79,332.66 L401.90,334.42" fill="none" stroke="#000" stroke-opacity="0.79" stroke-width="1.1" stroke-dasharray="1.6 1.1"/>
<path d="M415.05,280.28 L415.16,280.28 L415.28,260.57 L415.39,274.65 L415.50,244.04 L415.62,280.17 L415.74,223.96 L415.85,260.38 L415.97,207.29 L416.08,276.78 L416.19,209.95 L416.31,262.70 L416.43,210.57 L416.54,268.09 L416.66,206.55 L416.77,257.98 L416.88,213.71 L417.00,278.88 L417.12,212.79 L417.23,243.96 L417.34,205.39 L417.45,280.26 L417.57,208.69 L417.69,278.55 L417.81,205.76 L417.92,266.39 L418.03,205.49 L418.14,270.51 L418.26,224.34 L418.38,280.20 L418.50,242.76 L418.61,274.80 L418.72,261.15 L418.83,279.24 L418.95,280.28 L419.06,280.28" fill="none" stroke="#000" stroke-opacity="0.93" stroke-width="1.1" stroke-dasharray="1.6 1.1"/>
<path d="M431.66,261.93 L431.77,261.93 L431.88,249.47 L431.99,261.92 L432.10,238.53 L432.21,252.99 L432.32,224.97 L432.43,250.13 L432.54,212.92 L432.65,258.37 L432.76,201.51 L432.88,239.54 L432.99,195.07 L433.10,246.20 L433.21,190.31 L433.32,259.15 L433.43,193.73 L433.54,239.81 L433.65,188.66 L433.76,256.43 L433.87,193.31 L433.98,261.79 L434.09,186.03 L434.20,261.85 L434.31,189.72 L434.42,250.93 L434.53,193.86 L434.64,245.46 L434.75,201.97 L434.86,242.70 L434.98,215.51 L435.09,261.29 L435.20,223.06 L435.31,261.88 L435.42,234.19 L435.53,253.80 L435.64,242.10 L435.75,261.41 L435.86,252.72 L435.97,261.46 L436.08,261.93 L436.19,261.93" fill="none" stroke="#000" stroke-opacity="0.93" stroke-width="1.1" stroke-dasharray="1.6 1.1"/>
<path d="M448.31,270.90 L448.42,270.90 L448.53,258.08 L448.64,263.89 L448.75,243.52 L448.86,257.08 L448.97,229.14 L449.08,255.87 L449.20,215.88 L449.31,268.93 L449.42,206.42 L449.53,234.29 L449.64,187.98 L449.75,269.30 L449.86,184.31 L449.97,266.51 L450.09,184.58 L450.20,265.55 L450.31,186.49 L450.42,269.99 L450.53,186.24 L450.64,240.09 L450.75,186.48 L450.86,236.15 L450.98,188.61 L451.09,270.19 L451.20,183.43 L451.31,231.34 L451.42,185.97 L451.53,270.90 L451.64,194.76 L451.75,260.19 L451.87,208.13 L451.98,233.39 L452.09,216.85 L452.20,251.94 L452.31,233.91 L452.42,265.48 L452.53,243.93 L452.64,270.87 L452.76,258.75 L452.87,267.09 L452.98,270.90 L453.09,270.90" fill="none" stroke="#000" stroke-opacity="0.93" stroke-width="1.1" stroke-dasharray="1.6 1.1"/>
<path d="M464.77,327.18 L464.88,327.18 L465.00,279.68 L465.11,317.21 L465.23,282.73 L465.34,326.51 L465.46,282.73 L465.57,321.41 L465.69,280.22 L465.80,324.31 L465.92,282.19 L466.03,300.09 L466.15,281.40 L466.26,322.15 L466.38,282.40 L466.49,314.22 L466.61,285.49 L466.72,306.11 L466.84,293.56 L466.95,313.57 L467.07,300.77 L467.18,315.37 L467.30,307.59 L467.41,318.83 L467.53,313.68 L467.64,319.30 L467.76,320.49 L467.87,326.31 L468.00,327.18 L468.11,327.18" fill="none" stroke="#000" stroke-opacity="0.65" stroke-width="1.1" stroke-dasharray="1.6 1.1"/>
<path d="M499.66,270.08 L499.77,270.08 L499.89,255.63 L500.00,265.43 L500.11,237.94 L500.22,268.38 L500.34,223.38 L500.45,269.53 L500.56,216.03 L500.67,268.39 L500.79,211.18 L500.90,270.05 L501.01,213.67 L501.12,269.92 L501.24,210.23 L501.35,250.62 L501.46,212.28 L501.57,270.05 L501.69,215.59 L501.80,260.52 L501.91,209.71 L502.02,270.07 L502.14,210.51 L502.25,269.55 L502.36,214.18 L502.47,269.10 L502.59,210.56 L502.70,260.07 L502.81,210.98 L502.92,269.54 L503.04,220.57 L503.15,269.68 L503.26,229.38 L503.37,268.67 L503.49,239.29 L503.60,258.25 L503.71,250.62 L503.82,269.63 L503.94,259.64 L504.05,264.86 L504.17,270.08 L504.28,270.08" fill="none" stroke="#000" stroke-opacity="0.79" stroke-width="1.1" stroke-dasharray="1.6 1.1"/>
<path d="M518.31,335.33 L518.42,335.33 L518.56,252.20 L518.67,335.30 L518.82,245.87 L518.93,302.97 L519.07,247.34 L519.18,323.95 L519.33,252.68 L519.44,333.11 L519.58,281.92 L519.69,323.77 L519.84,335.33 L519.95,335.33" fill="none" stroke="#000" stroke-opacity="0.93" stroke-width="1.1" stroke-dasharray="1.6 1.1"/>
<path d="M534.41,278.24 L534.52,278.24 L534.63,235.08 L534.74,266.24 L534.85,186.90 L534.96,277.69 L535.08,178.67 L535.19,274.62 L535.30,181.84 L535.41,234.80 L535.52,187.72 L535.63,258.27 L535.74,182.07 L535.85,275.98 L535.96,184.97 L536.07,277.70 L536.19,185.60 L536.30,278.24 L536.41,190.34 L536.52,239.70 L536.63,194.37 L536.74,278.14 L536.85,203.28 L536.96,258.46 L537.07,216.88 L537.18,272.01 L537.30,227.88 L537.41,249.23 L537.52,236.48 L537.63,260.54 L537.74,247.36 L537.85,267.44 L537.96,256.81 L538.07,267.78 L538.18,267.68 L538.29,274.20 L538.40,278.24 L538.51,278.24" fill="none" stroke="#000" stroke-opacity="0.93" stroke-width="1.1" stroke-dasharray="1.6 1.1"/>
<g fill="none" stroke="#000" stroke-width="1.4" stroke-dasharray="2 2">
<path d="M59.20,345.53 L59.44,270.08 L60.80,180.78 L63.77,270.08 L64.30,345.53"/>
<path d="M74.60,345.53 L75.03,261.93 L77.50,176.70 L81.67,261.93 L82.40,345.53"/>
<path d="M92.90,345.53 L93.31,219.11 L95.60,206.47 L96.19,219.11 L96.30,345.53"/>
<path d="M110.00,345.53 L110.21,217.07 L111.40,207.69 L113.44,217.07 L113.80,345.53"/>
<path d="M146.10,345.53 L146.14,266.01 L146.40,215.85 L148.10,266.01 L148.40,345.53"/>
<path d="M164.00,345.53 L164.09,319.02 L164.60,268.86 L165.28,319.02 L165.40,345.53"/>
<path d="M177.60,345.53 L178.00,274.16 L180.30,204.84 L181.91,274.16 L182.20,345.53"/>
<path d="M193.90,345.53 L194.34,270.08 L196.80,167.73 L199.60,270.08 L200.10,345.53"/>
<path d="M213.30,345.53 L213.44,257.85 L214.20,207.69 L215.81,257.85 L216.10,345.53"/>
<path d="M279.60,345.53 L279.98,266.01 L282.10,210.55 L284.23,266.01 L284.60,345.53"/>
<path d="M296.00,345.53 L296.25,275.79 L297.70,182.81 L300.17,275.79 L300.60,345.53"/>
<path d="M312.40,345.53 L312.69,343.49 L314.30,312.09 L316.60,343.49 L317.00,345.53"/>
<path d="M331.40,345.53 L331.70,343.49 L333.40,299.45 L335.19,343.49 L335.50,345.53"/>
<path d="M345.80,345.53 L346.25,259.07 L348.80,177.92 L350.84,259.07 L351.20,345.53"/>
<path d="M363.00,345.53 L363.38,255.40 L365.50,179.96 L368.48,255.40 L369.00,345.53"/>
<path d="M380.50,345.53 L380.75,274.16 L382.20,195.46 L385.18,274.16 L385.70,345.53"/>
<path d="M399.50,345.53 L399.75,335.33 L401.20,251.73 L401.79,335.33 L401.90,345.53"/>
<path d="M414.70,345.53 L415.05,280.28 L417.00,193.83 L418.95,280.28 L419.30,345.53"/>
<path d="M431.30,345.53 L431.66,261.93 L433.70,183.63 L436.08,261.93 L436.50,345.53"/>
<path d="M447.90,345.53 L448.31,270.90 L450.60,179.14 L452.98,270.90 L453.40,345.53"/>
<path d="M464.60,345.53 L464.77,327.18 L465.70,266.41 L468.00,327.18 L468.40,345.53"/>
<path d="M499.30,345.53 L499.66,270.08 L501.70,204.84 L504.17,270.08 L504.60,345.53"/>
<path d="M518.20,345.53 L518.31,335.33 L518.90,238.68 L519.84,335.33 L520.00,345.53"/>
<path d="M534.20,345.53 L534.41,278.24 L535.60,174.25 L538.40,278.24 L538.90,345.53"/>
</g>
<g fill="none" stroke="#000" stroke-width="1.3" stroke-linejoin="round">
<path d="M46.50,344.00 L48.00,350.00 L50.70,355.50 L54.90,355.50 L56.50,351.00 L58.20,343.00"/>
<path d="M64.30,343.00 L65.20,351.00 L65.70,357.20 L72.40,357.20 L73.30,352.00 L74.60,343.00"/>
<path d="M82.40,343.00 L83.20,351.00 L83.80,357.10 L89.50,357.10 L90.50,352.00 L92.00,343.00"/>
<path d="M97.50,343.00 L98.20,351.00 L98.80,357.10 L107.00,357.10 L108.00,352.00 L109.70,343.00"/>
<path d="M114.30,343.00 L114.80,352.00 L115.30,357.30 L123.60,357.30 L124.50,350.00 L125.50,344.00 L126.50,352.00 L127.50,341.00 L128.50,349.00 L129.50,345.00 L130.50,352.00 L131.00,343.00 L132.00,349.00 L133.00,355.00 L134.00,356.50 L139.00,356.50 L140.50,350.00 L142.00,340.00 L144.00,343.00 L146.10,343.00"/>
<path d="M148.40,343.00 L149.30,352.00 L150.00,357.10 L158.00,357.10 L159.00,352.00 L160.00,347.00 L161.00,353.00 L162.00,345.00 L163.50,343.00 L164.40,343.00"/>
<path d="M165.50,343.00 L166.50,352.00 L168.00,357.10 L176.00,357.10 L177.20,343.00"/>
<path d="M181.80,343.00 L183.00,352.00 L185.00,356.60 L192.00,356.60 L193.00,350.00 L193.90,343.00"/>
<path d="M200.10,343.00 L201.00,351.00 L201.50,357.20 L209.00,357.20 L210.50,350.00 L213.30,343.00"/>
<path d="M216.10,343.00 L218.00,346.00 L220.00,352.00 L222.00,357.00 L226.00,357.00 L227.00,350.00 L228.00,346.30 L229.00,350.00 L230.00,357.00 L233.00,357.00 L234.00,350.00 L236.00,343.00 L237.00,351.00 L238.00,357.00 L245.00,357.00 L247.00,354.00 L249.00,357.00 L259.00,357.00 L260.00,352.00 L261.00,346.00 L263.00,343.00 L264.00,346.00 L266.00,348.00 L268.00,352.00 L269.00,357.50 L277.00,357.50 L278.00,348.00 L279.20,343.00"/>
<path d="M284.60,343.00 L285.50,351.00 L286.50,357.00 L292.00,357.00 L293.50,350.00 L296.00,343.00"/>
<path d="M300.90,343.00 L301.80,351.00 L302.50,357.20 L309.00,357.20 L310.00,345.00 L313.00,343.00 L313.50,343.00"/>
<path d="M316.00,343.00 L317.50,351.00 L319.00,357.10 L327.50,357.10 L329.00,348.00 L332.50,343.00"/>
<path d="M334.50,343.00 L335.50,351.00 L337.00,357.50 L344.00,357.50 L345.50,343.00"/>
<path d="M351.50,343.00 L352.30,351.00 L353.00,357.50 L358.00,357.50 L360.00,350.00 L363.00,343.00"/>
<path d="M369.00,343.00 L369.50,351.00 L370.00,357.20 L378.00,357.20 L379.00,350.00 L380.50,343.00"/>
<path d="M385.90,343.00 L386.50,351.00 L387.00,357.00 L395.00,357.00 L397.00,350.00 L399.00,343.00"/>
<path d="M401.70,343.00 L403.00,344.00 L404.00,345.00 L408.00,350.00 L413.00,357.00 L414.00,350.00 L414.70,343.00"/>
<path d="M419.30,343.00 L420.50,343.00 L424.00,352.00 L428.00,355.00 L430.00,350.00 L431.30,343.00"/>
<path d="M436.50,343.00 L437.00,343.00 L438.00,349.00 L445.00,349.00 L446.00,343.00 L447.90,343.00"/>
<path d="M453.40,343.00 L455.00,352.00 L459.00,348.00 L463.00,343.00 L464.50,343.00"/>
<path d="M468.50,343.00 L470.00,350.00 L472.00,357.00 L473.00,357.10 L481.00,357.10 L482.00,352.00 L484.00,347.00 L486.00,352.00 L487.00,354.00 L494.00,354.00 L496.00,348.00 L497.00,343.00 L499.30,343.00"/>
<path d="M504.50,343.00 L505.00,343.00 L509.00,350.00 L513.00,357.00 L515.00,352.00 L517.00,345.00 L518.20,343.00"/>
<path d="M520.00,343.00 L521.50,350.00 L523.00,357.00 L529.00,357.00 L531.00,350.00 L534.20,343.00"/>
<path d="M538.90,343.00 L540.00,350.00 L541.50,352.00 L544.00,346.00"/>
<path d="M35.70,341.40 L45.00,341.00 L52.00,341.60 L58.20,341.60 L58.74,348.60 L59.40,356.40 L60.00,357.30 L63.20,357.30 L63.80,356.40 L64.46,348.60 L65.00,341.60 L74.10,341.40 L74.64,348.40 L75.30,356.40 L75.90,357.30 L80.20,357.30 L80.80,356.40 L81.46,349.20 L82.00,342.20 L91.50,342.20 L92.03,349.20 L92.67,356.40 L93.27,357.30 L96.23,357.30 L96.83,356.40 L97.47,349.50 L98.00,342.50 L108.70,342.50 L109.24,349.50 L109.90,356.40 L110.50,357.30 L113.70,357.30 L114.30,356.40 L114.96,350.70 L115.50,343.70 L124.00,343.70 L124.60,337.00 L126.00,339.50 L127.00,336.50 L128.00,335.50 L131.00,335.80 L135.00,334.50 L140.00,334.80 L143.00,336.00 L144.50,345.00 L146.00,353.00 L147.50,345.00 L150.00,336.50 L153.00,337.50 L156.00,336.30 L159.00,337.20 L162.20,336.80 L163.00,345.00 L165.00,350.00 L167.50,345.00" stroke-width="1.6"/>
<path d="M173.00,331.00 L176.20,333.00 L177.30,342.00 L177.78,349.00 L178.36,356.40 L178.96,357.30 L181.54,357.30 L182.14,356.40 L182.72,345.60 L183.20,338.60 L188.00,338.80 L193.00,339.50 L193.54,346.50 L194.20,356.40 L194.80,357.30 L198.70,357.30 L199.30,356.40 L199.96,348.80 L200.50,341.80 L211.00,341.40 L211.49,348.40 L212.08,356.40 L212.68,357.30 L215.32,357.30 L215.92,356.40 L216.51,348.90 L217.00,341.90 L228.00,341.50 L240.00,340.80 L255.00,341.00 L256.00,342.00 L262.00,342.00 L263.00,341.50 L278.00,340.50 L278.54,347.50 L279.20,356.40 L279.80,357.30 L286.20,357.30 L286.80,356.40 L287.46,348.50 L288.00,341.50 L293.00,341.50 L293.54,348.50 L294.20,356.40 L294.80,357.30 L299.20,357.30 L299.80,356.40 L300.46,350.00 L301.00,343.00 L303.00,341.00 L303.60,339.20 L304.50,342.50 L311.00,342.50 L312.00,350.00 L313.50,352.00 L314.80,345.00 L316.00,342.00 L316.50,341.40 L329.80,341.40 L331.00,348.00 L332.00,352.00 L333.50,352.00 L335.00,347.00 L336.00,341.30 L346.20,341.30 L346.71,348.30 L347.33,356.40 L347.93,357.30 L350.77,357.30 L351.37,356.40 L351.99,350.00 L352.50,343.00 L353.50,342.50 L358.50,342.50 L359.70,324.50" stroke-width="1.6"/>
<path d="M361.54,347.00 L362.20,356.40 L362.80,357.30 L367.20,357.30 L367.80,356.40 L368.46,349.00 L369.00,342.00 L379.00,341.90 L379.90,335.40 L381.00,344.00 L381.49,351.00 L382.08,356.40 L382.68,357.30 L385.32,357.30 L385.92,356.40 L386.51,348.40 L387.00,341.40 L397.50,341.40 L397.99,348.40 L398.58,356.40 L399.18,357.30 L401.82,357.30 L402.42,356.40 L403.01,347.80 L403.50,340.80 L413.00,340.80 L413.54,347.80 L414.20,356.40 L414.80,357.30 L418.70,357.30 L419.30,356.40 L419.96,347.80 L420.50,340.80 L430.50,340.80 L431.03,347.80 L431.67,356.40 L432.27,357.30 L435.23,357.30 L435.83,356.40 L436.47,348.50 L437.00,341.50 L446.00,341.50 L446.54,348.50 L447.20,356.40 L447.80,357.30 L452.20,357.30 L452.80,356.40 L453.46,348.00 L454.00,341.00 L463.70,341.50 L464.50,335.00 L465.50,340.00 L467.50,345.00 L469.00,340.30 L483.00,340.30 L483.50,336.00 L484.00,340.30 L498.60,340.30 L499.08,347.30 L499.66,356.40 L500.26,357.30 L502.84,357.30 L503.44,356.40 L504.02,348.00 L504.50,341.00 L515.00,340.60 L516.00,348.00 L517.00,352.00" stroke-width="1.6"/>
<path d="M521.50,341.00 L531.00,341.00" stroke-width="1.6"/>
<path d="M533.54,345.00 L534.20,356.40 L534.80,357.30 L539.20,357.30 L539.80,356.40 L540.46,348.00 L541.00,341.00 L544.00,341.00" stroke-width="1.6"/>
<path d="M165.00,350.00 L167.50,345.00 L168.30,312.20 L169.00,318.00 L170.50,329.00 L173.00,331.00" stroke-width="1.0"/>
<path d="M358.50,342.50 L359.70,324.50 L360.50,334.00 L361.00,340.00 L361.54,347.00" stroke-width="1.0"/>
<path d="M516.00,348.00 L517.00,352.00 L518.50,350.00 L520.00,350.00 L521.50,341.00" stroke-width="1.0"/>
<path d="M521.50,341.00 L531.00,341.00 L531.50,327.20 L532.50,334.00 L533.00,338.00 L533.54,345.00" stroke-width="1.0"/>
<g stroke="#000" stroke-width="1.4" stroke-dasharray="2 1.6"><path d="M36.00,343.00 L37.00,347.00 L38.00,344.00 L39.00,351.00 L40.00,346.00 L41.00,353.00 L42.00,347.00 L43.00,352.00 L44.00,345.00 L45.00,349.00 L46.50,344.00"/></g>
<g stroke="#000" stroke-width="1.1" stroke-dasharray="1.5 2.5" stroke-opacity="0.55"><path d="M48.00,347.49 L49.69,348.97 L51.62,350.17 L53.53,347.81 L54.89,350.03 L56.47,352.03"/><path d="M65.80,345.99 L67.25,346.36 L68.07,344.94 L69.20,347.02 L70.92,345.32 L72.68,344.00"/><path d="M83.90,345.01 L85.75,344.00 L86.80,346.41 L88.65,345.36"/><path d="M99.00,347.71 L100.05,349.92 L101.67,352.25 L103.55,351.24 L104.78,349.57 L105.76,347.40 L106.92,347.91 L107.72,348.80"/><path d="M115.80,348.27 L117.18,347.35 L118.55,348.38 L119.42,350.75 L120.25,352.00 L122.06,349.59 L123.81,348.92 L125.30,346.47 L126.16,344.87 L128.11,344.00 L129.81,346.15 L131.74,345.37 L132.97,345.49 L134.70,344.00 L136.40,345.49 L138.23,344.00 L140.16,344.00 L141.37,344.55 L143.27,344.00"/><path d="M149.90,346.25 L151.08,344.64 L151.97,344.00 L153.60,346.48 L154.59,344.23 L156.58,344.39 L157.87,344.00 L159.38,345.63 L160.73,345.24 L161.59,347.32 L162.43,347.29"/><path d="M167.00,347.93 L168.94,348.58 L170.69,346.61 L172.01,344.86 L173.82,344.00 L175.16,346.50"/><path d="M183.30,346.81 L184.69,347.96 L186.06,346.92 L187.35,345.15 L188.60,347.59 L190.55,348.23 L191.95,347.42"/><path d="M201.60,348.13 L203.44,347.43 L205.18,348.81 L206.82,349.63 L208.53,348.95 L210.17,347.85 L211.56,349.20"/><path d="M217.60,348.78 L219.18,349.19 L219.99,349.42 L221.09,350.28 L222.45,351.86 L224.03,353.35 L225.24,354.07 L226.93,355.00 L228.15,355.00 L229.99,355.00 L231.96,355.00 L233.39,355.00 L234.39,355.00 L236.31,354.89 L237.94,355.00 L239.62,353.36 L241.35,353.76 L242.95,353.37 L244.50,354.74 L246.06,355.00 L246.90,353.30 L248.23,354.05 L249.29,354.98 L250.85,352.69 L252.21,351.32 L253.08,349.49 L254.26,347.90 L255.29,345.57 L256.65,344.98 L258.18,345.43 L259.27,347.44 L260.07,346.97 L261.20,346.52 L262.14,348.18 L263.39,345.86 L264.93,344.00 L266.38,344.00 L267.88,346.29 L269.66,345.89 L271.44,346.60 L272.68,344.81 L274.19,345.13 L276.14,347.47 L277.67,346.72"/><path d="M286.10,345.43 L287.58,346.01 L288.55,346.65 L290.42,346.03 L291.74,344.67 L292.89,347.03 L294.14,349.33"/><path d="M302.40,346.04 L304.38,346.02 L305.68,345.12 L307.66,345.08 L308.80,344.96 L309.75,345.57 L311.08,344.53"/><path d="M317.50,345.05 L318.94,344.00 L320.86,345.41 L321.96,344.25 L322.94,346.69 L324.09,347.23 L325.46,347.96 L326.99,349.17 L327.93,350.48 L329.09,350.64 L330.29,349.63"/><path d="M336.00,346.44 L337.69,346.90 L338.54,345.66 L339.88,347.74 L341.75,347.97 L342.57,349.36 L343.88,349.74"/><path d="M353.00,346.93 L354.89,346.35 L356.16,348.11 L357.20,347.10 L359.00,344.93 L360.80,345.90"/><path d="M370.50,348.12 L372.39,346.34 L373.77,346.58 L375.16,345.74 L376.15,346.16 L377.92,344.01 L379.00,345.60"/><path d="M387.40,345.10 L389.07,347.50 L391.07,348.50 L391.92,350.21 L392.99,350.94 L394.93,352.00 L395.89,350.97"/><path d="M403.20,347.44 L404.50,345.75 L406.04,344.00 L406.97,344.00 L407.86,344.00 L409.35,345.21 L411.20,344.00 L412.52,344.00"/><path d="M420.80,348.75 L422.05,346.53 L423.69,344.79 L425.24,344.82 L427.14,345.09 L428.68,344.00"/><path d="M438.00,348.00 L439.42,346.17 L440.50,345.53 L442.19,344.00 L443.84,344.78 L444.74,345.61 L445.65,344.00"/><path d="M454.90,348.51 L456.28,347.62 L458.03,345.27 L459.70,344.00 L460.68,346.26 L462.30,344.88"/><path d="M470.00,347.66 L471.78,345.86 L473.33,345.13 L474.42,344.30 L475.95,344.00 L477.22,344.00 L479.01,344.74 L480.78,344.41 L482.60,344.49 L484.11,344.86 L485.80,344.34 L486.72,344.00 L487.76,344.00 L489.63,344.00 L491.34,344.00 L492.70,345.95 L494.25,345.59 L495.60,344.00 L496.59,344.00"/><path d="M506.00,348.52 L506.98,347.29 L508.12,345.60 L509.26,344.28 L510.64,344.00 L512.55,344.00 L514.47,344.94 L516.08,344.80"/><path d="M521.50,347.67 L522.65,348.55 L524.32,346.86 L525.37,344.49 L526.44,344.00 L527.72,346.37 L528.96,345.43 L530.32,344.34 L532.00,345.43"/></g>
</g></g>
<rect x="239.7" y="14.2" width="116" height="16.8" fill="#fff"/><rect x="239.7" y="30" width="100" height="14.4" fill="#fff"/>
<line x1="239.2" y1="20.5" x2="274.5" y2="20.5" stroke="#000" stroke-width="1.4"/>
<line x1="239.6" y1="36" x2="274.5" y2="36" stroke="#000" stroke-width="1.3" stroke-dasharray="2 2.17"/>
<text x="278.6" y="25.2" font-size="12.3">solar intensity</text>
<text x="278.6" y="40.6" font-size="12.3">UV index</text>
<rect x="222.6" y="163.3" width="83" height="16" fill="#fff"/><rect x="222.6" y="179" width="70.5" height="16.6" fill="#fff"/>
<line x1="222.6" y1="171.3" x2="258.5" y2="171.3" stroke="#000" stroke-width="1.4"/>
<line x1="222.6" y1="186.6" x2="258.5" y2="186.6" stroke="#000" stroke-width="1.3" stroke-dasharray="2 2.17"/>
<text x="262.6" y="176" font-size="12.3">toluene</text>
<text x="262.6" y="191.3" font-size="12.3">CO2</text>
<g fill="none" stroke="#000" stroke-width="1.6"><rect x="35.70" y="10.80" width="508.40" height="349.00"/><line x1="35.70" y1="155.90" x2="544.10" y2="155.90"/></g>
<g stroke="#666" stroke-width="0.9"><line x1="35.70" y1="155.90" x2="41.70" y2="155.90"/><line x1="35.70" y1="137.76" x2="38.70" y2="137.76"/><line x1="35.70" y1="119.62" x2="41.70" y2="119.62"/><line x1="35.70" y1="101.49" x2="38.70" y2="101.49"/><line x1="35.70" y1="83.35" x2="41.70" y2="83.35"/><line x1="35.70" y1="65.21" x2="38.70" y2="65.21"/><line x1="35.70" y1="47.08" x2="41.70" y2="47.08"/><line x1="35.70" y1="28.94" x2="38.70" y2="28.94"/><line x1="35.70" y1="10.80" x2="41.70" y2="10.80"/><line x1="35.70" y1="359.80" x2="41.70" y2="359.80"/><line x1="544.10" y1="359.80" x2="538.10" y2="359.80"/><line x1="35.70" y1="351.64" x2="38.70" y2="351.64"/><line x1="544.10" y1="351.64" x2="541.10" y2="351.64"/><line x1="35.70" y1="343.49" x2="38.70" y2="343.49"/><line x1="544.10" y1="343.49" x2="541.10" y2="343.49"/><line x1="35.70" y1="335.33" x2="38.70" y2="335.33"/><line x1="544.10" y1="335.33" x2="541.10" y2="335.33"/><line x1="35.70" y1="327.18" x2="38.70" y2="327.18"/><line x1="544.10" y1="327.18" x2="541.10" y2="327.18"/><line x1="35.70" y1="319.02" x2="41.70" y2="319.02"/><line x1="544.10" y1="319.02" x2="538.10" y2="319.02"/><line x1="35.70" y1="310.86" x2="38.70" y2="310.86"/><line x1="544.10" y1="310.86" x2="541.10" y2="310.86"/><line x1="35.70" y1="302.71" x2="38.70" y2="302.71"/><line x1="544.10" y1="302.71" x2="541.10" y2="302.71"/><line x1="35.70" y1="294.55" x2="38.70" y2="294.55"/><line x1="544.10" y1="294.55" x2="541.10" y2="294.55"/><line x1="35.70" y1="286.40" x2="38.70" y2="286.40"/><line x1="544.10" y1="286.40" x2="541.10" y2="286.40"/><line x1="35.70" y1="278.24" x2="41.70" y2="278.24"/><line x1="544.10" y1="278.24" x2="538.10" y2="278.24"/><line x1="35.70" y1="270.08" x2="38.70" y2="270.08"/><line x1="544.10" y1="270.08" x2="541.10" y2="270.08"/><line x1="35.70" y1="261.93" x2="38.70" y2="261.93"/><line x1="544.10" y1="261.93" x2="541.10" y2="261.93"/><line x1="35.70" y1="253.77" x2="38.70" y2="253.77"/><line x1="544.10" y1="253.77" x2="541.10" y2="253.77"/><line x1="35.70" y1="245.62" x2="38.70" y2="245.62"/><line x1="544.10" y1="245.62" x2="541.10" y2="245.62"/><line x1="35.70" y1="237.46" x2="41.70" y2="237.46"/><line x1="544.10" y1="237.46" x2="538.10" y2="237.46"/><line x1="35.70" y1="229.30" x2="38.70" y2="229.30"/><line x1="544.10" y1="229.30" x2="541.10" y2="229.30"/><line x1="35.70" y1="221.15" x2="38.70" y2="221.15"/><line x1="544.10" y1="221.15" x2="541.10" y2="221.15"/><line x1="35.70" y1="212.99" x2="38.70" y2="212.99"/><line x1="544.10" y1="212.99" x2="541.10" y2="212.99"/><line x1="35.70" y1="204.84" x2="38.70" y2="204.84"/><line x1="544.10" y1="204.84" x2="541.10" y2="204.84"/><line x1="35.70" y1="196.68" x2="41.70" y2="196.68"/><line x1="544.10" y1="196.68" x2="538.10" y2="196.68"/><line x1="35.70" y1="188.52" x2="38.70" y2="188.52"/><line x1="544.10" y1="188.52" x2="541.10" y2="188.52"/><line x1="35.70" y1="180.37" x2="38.70" y2="180.37"/><line x1="544.10" y1="180.37" x2="541.10" y2="180.37"/><line x1="35.70" y1="172.21" x2="38.70" y2="172.21"/><line x1="544.10" y1="172.21" x2="541.10" y2="172.21"/><line x1="35.70" y1="164.06" x2="38.70" y2="164.06"/><line x1="544.10" y1="164.06" x2="541.10" y2="164.06"/><line x1="35.70" y1="155.90" x2="41.70" y2="155.90"/><line x1="544.10" y1="155.90" x2="538.10" y2="155.90"/></g>
<text x="30.6" y="160.20" text-anchor="end" font-size="12.4">0</text><text x="30.6" y="123.92" text-anchor="end" font-size="12.4">2</text><text x="30.6" y="87.65" text-anchor="end" font-size="12.4">4</text><text x="30.6" y="51.38" text-anchor="end" font-size="12.4">6</text><text x="30.6" y="15.10" text-anchor="end" font-size="12.4">8</text><text x="30.6" y="364.10" text-anchor="end" font-size="12.4">0</text><text x="30.6" y="323.32" text-anchor="end" font-size="12.4">10</text><text x="30.6" y="282.54" text-anchor="end" font-size="12.4">20</text><text x="30.6" y="241.76" text-anchor="end" font-size="12.4">30</text><text x="30.6" y="200.98" text-anchor="end" font-size="12.4">40</text>
<text transform="translate(48.47,386.8) rotate(-90)" font-size="12">9/1</text><text transform="translate(65.42,386.8) rotate(-90)" font-size="12">9/2</text><text transform="translate(82.37,386.8) rotate(-90)" font-size="12">9/3</text><text transform="translate(99.31,386.8) rotate(-90)" font-size="12">9/4</text><text transform="translate(116.26,386.8) rotate(-90)" font-size="12">9/5</text><text transform="translate(133.21,386.8) rotate(-90)" font-size="12">9/6</text><text transform="translate(150.15,386.8) rotate(-90)" font-size="12">9/7</text><text transform="translate(167.10,386.8) rotate(-90)" font-size="12">9/8</text><text transform="translate(184.05,386.8) rotate(-90)" font-size="12">9/9</text><text transform="translate(200.99,386.8) rotate(-90)" font-size="12">9/10</text><text transform="translate(217.94,386.8) rotate(-90)" font-size="12">9/11</text><text transform="translate(234.89,386.8) rotate(-90)" font-size="12">9/12</text><text transform="translate(251.83,386.8) rotate(-90)" font-size="12">9/13</text><text transform="translate(268.78,386.8) rotate(-90)" font-size="12">9/14</text><text transform="translate(285.73,386.8) rotate(-90)" font-size="12">9/15</text><text transform="translate(302.67,386.8) rotate(-90)" font-size="12">9/16</text><text transform="translate(319.62,386.8) rotate(-90)" font-size="12">9/17</text><text transform="translate(336.57,386.8) rotate(-90)" font-size="12">9/18</text><text transform="translate(353.51,386.8) rotate(-90)" font-size="12">9/19</text><text transform="translate(370.46,386.8) rotate(-90)" font-size="12">9/20</text><text transform="translate(387.41,386.8) rotate(-90)" font-size="12">9/21</text><text transform="translate(404.35,386.8) rotate(-90)" font-size="12">9/22</text><text transform="translate(421.30,386.8) rotate(-90)" font-size="12">9/23</text><text transform="translate(438.25,386.8) rotate(-90)" font-size="12">9/24</text><text transform="translate(455.19,386.8) rotate(-90)" font-size="12">9/25</text><text transform="translate(472.14,386.8) rotate(-90)" font-size="12">9/26</text><text transform="translate(489.09,386.8) rotate(-90)" font-size="12">9/27</text><text transform="translate(506.03,386.8) rotate(-90)" font-size="12">9/28</text><text transform="translate(522.98,386.8) rotate(-90)" font-size="12">9/29</text><text transform="translate(539.93,386.8) rotate(-90)" font-size="12">9/30</text>
<text x="272.5" y="401.9" text-anchor="middle" font-size="12.2">Date (month/day)</text>
<text style="stroke:none" transform="translate(13.6,158.3) rotate(-90)" font-size="11.2" textLength="153.3" lengthAdjust="spacingAndGlyphs">Solar Intensity (MJ/m<tspan font-size="7" dy="-4">2</tspan><tspan dy="4">, UV index)</tspan></text>
<text style="stroke:none" transform="translate(13.6,345.2) rotate(-90)" font-size="12">Conc. of toluene and CO<tspan font-size="7.5" dy="2.6">2</tspan><tspan dy="-2.6"> (ppm)</tspan></text>
</svg></body></html>
